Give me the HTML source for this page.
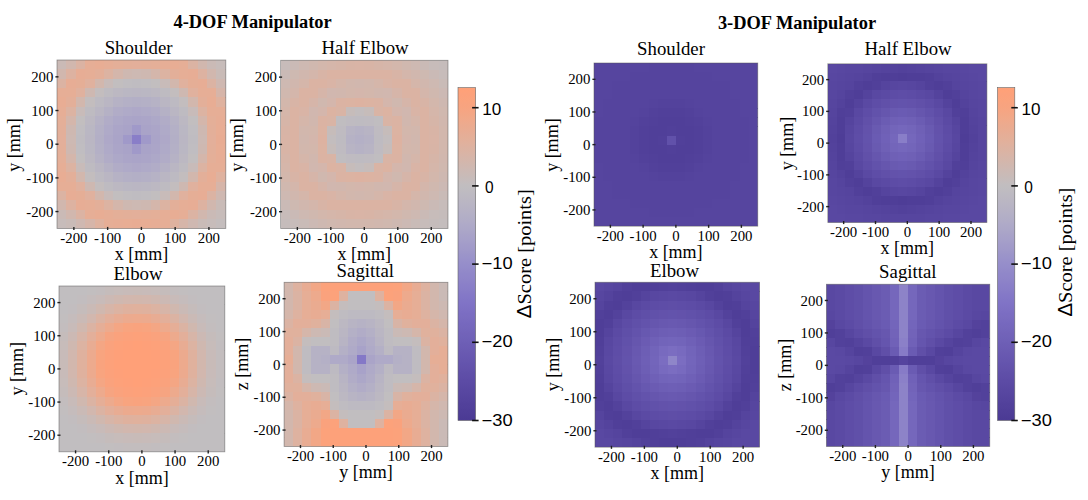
<!DOCTYPE html><html><head><meta charset="utf-8"><style>html,body{margin:0;padding:0;background:#fff;width:1088px;height:500px;overflow:hidden}svg{display:block}text{font-family:"Liberation Serif",serif;fill:#000}.s{font-family:"Liberation Sans",sans-serif}</style></head><body><svg width="1088" height="500" viewBox="0 0 1088 500"><svg x="57" y="60" width="168.80" height="168.40" viewBox="0 0 18 18" preserveAspectRatio="none" shape-rendering="crispEdges"><rect x="0" y="0" width="1" height="1.02" fill="#cabab6"/><rect x="1" y="0" width="1" height="1.02" fill="#d1b7ae"/><rect x="2" y="0" width="1" height="1.02" fill="#dbb3a3"/><rect x="3" y="0" width="1" height="1.02" fill="#e6ae96"/><rect x="4" y="0" width="1" height="1.02" fill="#e8ad94"/><rect x="5" y="0" width="1" height="1.02" fill="#e6ae96"/><rect x="6" y="0" width="1" height="1.02" fill="#e4af98"/><rect x="7" y="0" width="1" height="1.02" fill="#e3af99"/><rect x="8" y="0" width="1" height="1.02" fill="#e3af9a"/><rect x="9" y="0" width="1" height="1.02" fill="#e3af99"/><rect x="10" y="0" width="1" height="1.02" fill="#e4af98"/><rect x="11" y="0" width="1" height="1.02" fill="#e6ae96"/><rect x="12" y="0" width="1" height="1.02" fill="#e8ad94"/><rect x="13" y="0" width="1" height="1.02" fill="#e6ae96"/><rect x="14" y="0" width="1" height="1.02" fill="#dbb3a3"/><rect x="15" y="0" width="1" height="1.02" fill="#d1b7ae"/><rect x="16" y="0" width="1" height="1.02" fill="#cabab6"/><rect x="17" y="0" width="1" height="1.02" fill="#c7bcba"/><rect x="0" y="1" width="1" height="1.02" fill="#d1b7ae"/><rect x="1" y="1" width="1" height="1.02" fill="#ddb2a1"/><rect x="2" y="1" width="1" height="1.02" fill="#e7ad95"/><rect x="3" y="1" width="1" height="1.02" fill="#e6ae96"/><rect x="4" y="1" width="1" height="1.02" fill="#e3af99"/><rect x="5" y="1" width="1" height="1.02" fill="#dcb3a2"/><rect x="6" y="1" width="1" height="1.02" fill="#d4b6ab"/><rect x="7" y="1" width="1" height="1.02" fill="#ceb8b1"/><rect x="8" y="1" width="1" height="1.02" fill="#cdb9b3"/><rect x="9" y="1" width="1" height="1.02" fill="#ceb8b1"/><rect x="10" y="1" width="1" height="1.02" fill="#d4b6ab"/><rect x="11" y="1" width="1" height="1.02" fill="#dcb3a2"/><rect x="12" y="1" width="1" height="1.02" fill="#e3af99"/><rect x="13" y="1" width="1" height="1.02" fill="#e6ae96"/><rect x="14" y="1" width="1" height="1.02" fill="#e7ad95"/><rect x="15" y="1" width="1" height="1.02" fill="#ddb2a1"/><rect x="16" y="1" width="1" height="1.02" fill="#d1b7ae"/><rect x="17" y="1" width="1" height="1.02" fill="#c9bbb7"/><rect x="0" y="2" width="1" height="1.02" fill="#dbb3a3"/><rect x="1" y="2" width="1" height="1.02" fill="#e7ad95"/><rect x="2" y="2" width="1" height="1.02" fill="#e5ae96"/><rect x="3" y="2" width="1" height="1.02" fill="#e0b19e"/><rect x="4" y="2" width="1" height="1.02" fill="#d2b7ad"/><rect x="5" y="2" width="1" height="1.02" fill="#c8bbb9"/><rect x="6" y="2" width="1" height="1.02" fill="#c2bebf"/><rect x="7" y="2" width="1" height="1.02" fill="#c0bdc1"/><rect x="8" y="2" width="1" height="1.02" fill="#bfbcc1"/><rect x="9" y="2" width="1" height="1.02" fill="#c0bdc1"/><rect x="10" y="2" width="1" height="1.02" fill="#c2bebf"/><rect x="11" y="2" width="1" height="1.02" fill="#c8bbb9"/><rect x="12" y="2" width="1" height="1.02" fill="#d2b7ad"/><rect x="13" y="2" width="1" height="1.02" fill="#e0b19e"/><rect x="14" y="2" width="1" height="1.02" fill="#e5ae96"/><rect x="15" y="2" width="1" height="1.02" fill="#e7ad95"/><rect x="16" y="2" width="1" height="1.02" fill="#dbb3a3"/><rect x="17" y="2" width="1" height="1.02" fill="#cfb8b1"/><rect x="0" y="3" width="2" height="1.02" fill="#e6ae96"/><rect x="2" y="3" width="1" height="1.02" fill="#e0b19e"/><rect x="3" y="3" width="1" height="1.02" fill="#ceb8b1"/><rect x="4" y="3" width="1" height="1.02" fill="#c3bdbe"/><rect x="5" y="3" width="1" height="1.02" fill="#bebbc1"/><rect x="6" y="3" width="1" height="1.02" fill="#bcb8c2"/><rect x="7" y="3" width="1" height="1.02" fill="#bab7c3"/><rect x="8" y="3" width="1" height="1.02" fill="#bab6c3"/><rect x="9" y="3" width="1" height="1.02" fill="#bab7c3"/><rect x="10" y="3" width="1" height="1.02" fill="#bcb8c2"/><rect x="11" y="3" width="1" height="1.02" fill="#bebbc1"/><rect x="12" y="3" width="1" height="1.02" fill="#c3bdbe"/><rect x="13" y="3" width="1" height="1.02" fill="#ceb8b1"/><rect x="14" y="3" width="1" height="1.02" fill="#e0b19e"/><rect x="15" y="3" width="2" height="1.02" fill="#e6ae96"/><rect x="17" y="3" width="1" height="1.02" fill="#d6b5a9"/><rect x="0" y="4" width="1" height="1.02" fill="#e8ad94"/><rect x="1" y="4" width="1" height="1.02" fill="#e3af99"/><rect x="2" y="4" width="1" height="1.02" fill="#d2b7ad"/><rect x="3" y="4" width="1" height="1.02" fill="#c3bdbe"/><rect x="4" y="4" width="1" height="1.02" fill="#bdbac2"/><rect x="5" y="4" width="1" height="1.02" fill="#bab6c3"/><rect x="6" y="4" width="1" height="1.02" fill="#b6b2c5"/><rect x="7" y="4" width="1" height="1.02" fill="#b4b0c6"/><rect x="8" y="4" width="1" height="1.02" fill="#b3afc6"/><rect x="9" y="4" width="1" height="1.02" fill="#b4b0c6"/><rect x="10" y="4" width="1" height="1.02" fill="#b6b2c5"/><rect x="11" y="4" width="1" height="1.02" fill="#bab6c3"/><rect x="12" y="4" width="1" height="1.02" fill="#bdbac2"/><rect x="13" y="4" width="1" height="1.02" fill="#c3bdbe"/><rect x="14" y="4" width="1" height="1.02" fill="#d2b7ad"/><rect x="15" y="4" width="1" height="1.02" fill="#e3af99"/><rect x="16" y="4" width="1" height="1.02" fill="#e8ad94"/><rect x="17" y="4" width="1" height="1.02" fill="#dfb29f"/><rect x="0" y="5" width="1" height="1.02" fill="#e6ae96"/><rect x="1" y="5" width="1" height="1.02" fill="#dcb3a2"/><rect x="2" y="5" width="1" height="1.02" fill="#c8bbb9"/><rect x="3" y="5" width="1" height="1.02" fill="#bebbc1"/><rect x="4" y="5" width="1" height="1.02" fill="#bab6c3"/><rect x="5" y="5" width="1" height="1.02" fill="#b5b1c5"/><rect x="6" y="5" width="1" height="1.02" fill="#b1acc7"/><rect x="7" y="5" width="1" height="1.02" fill="#afaac8"/><rect x="8" y="5" width="1" height="1.02" fill="#aea8c8"/><rect x="9" y="5" width="1" height="1.02" fill="#afaac8"/><rect x="10" y="5" width="1" height="1.02" fill="#b1acc7"/><rect x="11" y="5" width="1" height="1.02" fill="#b5b1c5"/><rect x="12" y="5" width="1" height="1.02" fill="#bab6c3"/><rect x="13" y="5" width="1" height="1.02" fill="#bebbc1"/><rect x="14" y="5" width="1" height="1.02" fill="#c8bbb9"/><rect x="15" y="5" width="1" height="1.02" fill="#dcb3a2"/><rect x="16" y="5" width="2" height="1.02" fill="#e6ae96"/><rect x="0" y="6" width="1" height="1.02" fill="#e4af98"/><rect x="1" y="6" width="1" height="1.02" fill="#d4b6ab"/><rect x="2" y="6" width="1" height="1.02" fill="#c2bebf"/><rect x="3" y="6" width="1" height="1.02" fill="#bcb8c2"/><rect x="4" y="6" width="1" height="1.02" fill="#b6b2c5"/><rect x="5" y="6" width="1" height="1.02" fill="#b1acc7"/><rect x="6" y="6" width="1" height="1.02" fill="#ada8c8"/><rect x="7" y="6" width="1" height="1.02" fill="#aba5c8"/><rect x="8" y="6" width="1" height="1.02" fill="#aaa4c8"/><rect x="9" y="6" width="1" height="1.02" fill="#aba5c8"/><rect x="10" y="6" width="1" height="1.02" fill="#ada8c8"/><rect x="11" y="6" width="1" height="1.02" fill="#b1acc7"/><rect x="12" y="6" width="1" height="1.02" fill="#b6b2c5"/><rect x="13" y="6" width="1" height="1.02" fill="#bcb8c2"/><rect x="14" y="6" width="1" height="1.02" fill="#c2bebf"/><rect x="15" y="6" width="1" height="1.02" fill="#d4b6ab"/><rect x="16" y="6" width="1" height="1.02" fill="#e4af98"/><rect x="17" y="6" width="1" height="1.02" fill="#e7ad95"/><rect x="0" y="7" width="1" height="1.02" fill="#e3af99"/><rect x="1" y="7" width="1" height="1.02" fill="#ceb8b1"/><rect x="2" y="7" width="1" height="1.02" fill="#c0bdc1"/><rect x="3" y="7" width="1" height="1.02" fill="#bab7c3"/><rect x="4" y="7" width="1" height="1.02" fill="#b4b0c6"/><rect x="5" y="7" width="1" height="1.02" fill="#afaac8"/><rect x="6" y="7" width="1" height="1.02" fill="#aba5c8"/><rect x="7" y="7" width="1" height="1.02" fill="#a9a3c8"/><rect x="8" y="7" width="1" height="1.02" fill="#a099c9"/><rect x="9" y="7" width="1" height="1.02" fill="#a9a3c8"/><rect x="10" y="7" width="1" height="1.02" fill="#aba5c8"/><rect x="11" y="7" width="1" height="1.02" fill="#afaac8"/><rect x="12" y="7" width="1" height="1.02" fill="#b4b0c6"/><rect x="13" y="7" width="1" height="1.02" fill="#bab7c3"/><rect x="14" y="7" width="1" height="1.02" fill="#c0bdc1"/><rect x="15" y="7" width="1" height="1.02" fill="#ceb8b1"/><rect x="16" y="7" width="1" height="1.02" fill="#e3af99"/><rect x="17" y="7" width="1" height="1.02" fill="#e8ad94"/><rect x="0" y="8" width="1" height="1.02" fill="#e3af9a"/><rect x="1" y="8" width="1" height="1.02" fill="#cdb9b3"/><rect x="2" y="8" width="1" height="1.02" fill="#bfbcc1"/><rect x="3" y="8" width="1" height="1.02" fill="#bab6c3"/><rect x="4" y="8" width="1" height="1.02" fill="#b3afc6"/><rect x="5" y="8" width="1" height="1.02" fill="#aea8c8"/><rect x="6" y="8" width="1" height="1.02" fill="#aaa4c8"/><rect x="7" y="8" width="1" height="1.02" fill="#a099c9"/><rect x="8" y="8" width="1" height="1.02" fill="#897ec8"/><rect x="9" y="8" width="1" height="1.02" fill="#a099c9"/><rect x="10" y="8" width="1" height="1.02" fill="#aaa4c8"/><rect x="11" y="8" width="1" height="1.02" fill="#aea8c8"/><rect x="12" y="8" width="1" height="1.02" fill="#b3afc6"/><rect x="13" y="8" width="1" height="1.02" fill="#bab6c3"/><rect x="14" y="8" width="1" height="1.02" fill="#bfbcc1"/><rect x="15" y="8" width="1" height="1.02" fill="#cdb9b3"/><rect x="16" y="8" width="1" height="1.02" fill="#e3af9a"/><rect x="17" y="8" width="1" height="1.02" fill="#e8ac93"/><rect x="0" y="9" width="1" height="1.02" fill="#e3af99"/><rect x="1" y="9" width="1" height="1.02" fill="#ceb8b1"/><rect x="2" y="9" width="1" height="1.02" fill="#c0bdc1"/><rect x="3" y="9" width="1" height="1.02" fill="#bab7c3"/><rect x="4" y="9" width="1" height="1.02" fill="#b4b0c6"/><rect x="5" y="9" width="1" height="1.02" fill="#afaac8"/><rect x="6" y="9" width="1" height="1.02" fill="#aba5c8"/><rect x="7" y="9" width="1" height="1.02" fill="#a9a3c8"/><rect x="8" y="9" width="1" height="1.02" fill="#a099c9"/><rect x="9" y="9" width="1" height="1.02" fill="#a9a3c8"/><rect x="10" y="9" width="1" height="1.02" fill="#aba5c8"/><rect x="11" y="9" width="1" height="1.02" fill="#afaac8"/><rect x="12" y="9" width="1" height="1.02" fill="#b4b0c6"/><rect x="13" y="9" width="1" height="1.02" fill="#bab7c3"/><rect x="14" y="9" width="1" height="1.02" fill="#c0bdc1"/><rect x="15" y="9" width="1" height="1.02" fill="#ceb8b1"/><rect x="16" y="9" width="1" height="1.02" fill="#e3af99"/><rect x="17" y="9" width="1" height="1.02" fill="#e8ad94"/><rect x="0" y="10" width="1" height="1.02" fill="#e4af98"/><rect x="1" y="10" width="1" height="1.02" fill="#d4b6ab"/><rect x="2" y="10" width="1" height="1.02" fill="#c2bebf"/><rect x="3" y="10" width="1" height="1.02" fill="#bcb8c2"/><rect x="4" y="10" width="1" height="1.02" fill="#b6b2c5"/><rect x="5" y="10" width="1" height="1.02" fill="#b1acc7"/><rect x="6" y="10" width="1" height="1.02" fill="#ada8c8"/><rect x="7" y="10" width="1" height="1.02" fill="#aba5c8"/><rect x="8" y="10" width="1" height="1.02" fill="#aaa4c8"/><rect x="9" y="10" width="1" height="1.02" fill="#aba5c8"/><rect x="10" y="10" width="1" height="1.02" fill="#ada8c8"/><rect x="11" y="10" width="1" height="1.02" fill="#b1acc7"/><rect x="12" y="10" width="1" height="1.02" fill="#b6b2c5"/><rect x="13" y="10" width="1" height="1.02" fill="#bcb8c2"/><rect x="14" y="10" width="1" height="1.02" fill="#c2bebf"/><rect x="15" y="10" width="1" height="1.02" fill="#d4b6ab"/><rect x="16" y="10" width="1" height="1.02" fill="#e4af98"/><rect x="17" y="10" width="1" height="1.02" fill="#e7ad95"/><rect x="0" y="11" width="1" height="1.02" fill="#e6ae96"/><rect x="1" y="11" width="1" height="1.02" fill="#dcb3a2"/><rect x="2" y="11" width="1" height="1.02" fill="#c8bbb9"/><rect x="3" y="11" width="1" height="1.02" fill="#bebbc1"/><rect x="4" y="11" width="1" height="1.02" fill="#bab6c3"/><rect x="5" y="11" width="1" height="1.02" fill="#b5b1c5"/><rect x="6" y="11" width="1" height="1.02" fill="#b1acc7"/><rect x="7" y="11" width="1" height="1.02" fill="#afaac8"/><rect x="8" y="11" width="1" height="1.02" fill="#aea8c8"/><rect x="9" y="11" width="1" height="1.02" fill="#afaac8"/><rect x="10" y="11" width="1" height="1.02" fill="#b1acc7"/><rect x="11" y="11" width="1" height="1.02" fill="#b5b1c5"/><rect x="12" y="11" width="1" height="1.02" fill="#bab6c3"/><rect x="13" y="11" width="1" height="1.02" fill="#bebbc1"/><rect x="14" y="11" width="1" height="1.02" fill="#c8bbb9"/><rect x="15" y="11" width="1" height="1.02" fill="#dcb3a2"/><rect x="16" y="11" width="2" height="1.02" fill="#e6ae96"/><rect x="0" y="12" width="1" height="1.02" fill="#e8ad94"/><rect x="1" y="12" width="1" height="1.02" fill="#e3af99"/><rect x="2" y="12" width="1" height="1.02" fill="#d2b7ad"/><rect x="3" y="12" width="1" height="1.02" fill="#c3bdbe"/><rect x="4" y="12" width="1" height="1.02" fill="#bdbac2"/><rect x="5" y="12" width="1" height="1.02" fill="#bab6c3"/><rect x="6" y="12" width="1" height="1.02" fill="#b6b2c5"/><rect x="7" y="12" width="1" height="1.02" fill="#b4b0c6"/><rect x="8" y="12" width="1" height="1.02" fill="#b3afc6"/><rect x="9" y="12" width="1" height="1.02" fill="#b4b0c6"/><rect x="10" y="12" width="1" height="1.02" fill="#b6b2c5"/><rect x="11" y="12" width="1" height="1.02" fill="#bab6c3"/><rect x="12" y="12" width="1" height="1.02" fill="#bdbac2"/><rect x="13" y="12" width="1" height="1.02" fill="#c3bdbe"/><rect x="14" y="12" width="1" height="1.02" fill="#d2b7ad"/><rect x="15" y="12" width="1" height="1.02" fill="#e3af99"/><rect x="16" y="12" width="1" height="1.02" fill="#e8ad94"/><rect x="17" y="12" width="1" height="1.02" fill="#dfb29f"/><rect x="0" y="13" width="2" height="1.02" fill="#e6ae96"/><rect x="2" y="13" width="1" height="1.02" fill="#e0b19e"/><rect x="3" y="13" width="1" height="1.02" fill="#ceb8b1"/><rect x="4" y="13" width="1" height="1.02" fill="#c3bdbe"/><rect x="5" y="13" width="1" height="1.02" fill="#bebbc1"/><rect x="6" y="13" width="1" height="1.02" fill="#bcb8c2"/><rect x="7" y="13" width="1" height="1.02" fill="#bab7c3"/><rect x="8" y="13" width="1" height="1.02" fill="#bab6c3"/><rect x="9" y="13" width="1" height="1.02" fill="#bab7c3"/><rect x="10" y="13" width="1" height="1.02" fill="#bcb8c2"/><rect x="11" y="13" width="1" height="1.02" fill="#bebbc1"/><rect x="12" y="13" width="1" height="1.02" fill="#c3bdbe"/><rect x="13" y="13" width="1" height="1.02" fill="#ceb8b1"/><rect x="14" y="13" width="1" height="1.02" fill="#e0b19e"/><rect x="15" y="13" width="2" height="1.02" fill="#e6ae96"/><rect x="17" y="13" width="1" height="1.02" fill="#d6b5a9"/><rect x="0" y="14" width="1" height="1.02" fill="#dbb3a3"/><rect x="1" y="14" width="1" height="1.02" fill="#e7ad95"/><rect x="2" y="14" width="1" height="1.02" fill="#e5ae96"/><rect x="3" y="14" width="1" height="1.02" fill="#e0b19e"/><rect x="4" y="14" width="1" height="1.02" fill="#d2b7ad"/><rect x="5" y="14" width="1" height="1.02" fill="#c8bbb9"/><rect x="6" y="14" width="1" height="1.02" fill="#c2bebf"/><rect x="7" y="14" width="1" height="1.02" fill="#c0bdc1"/><rect x="8" y="14" width="1" height="1.02" fill="#bfbcc1"/><rect x="9" y="14" width="1" height="1.02" fill="#c0bdc1"/><rect x="10" y="14" width="1" height="1.02" fill="#c2bebf"/><rect x="11" y="14" width="1" height="1.02" fill="#c8bbb9"/><rect x="12" y="14" width="1" height="1.02" fill="#d2b7ad"/><rect x="13" y="14" width="1" height="1.02" fill="#e0b19e"/><rect x="14" y="14" width="1" height="1.02" fill="#e5ae96"/><rect x="15" y="14" width="1" height="1.02" fill="#e7ad95"/><rect x="16" y="14" width="1" height="1.02" fill="#dbb3a3"/><rect x="17" y="14" width="1" height="1.02" fill="#cfb8b1"/><rect x="0" y="15" width="1" height="1.02" fill="#d1b7ae"/><rect x="1" y="15" width="1" height="1.02" fill="#ddb2a1"/><rect x="2" y="15" width="1" height="1.02" fill="#e7ad95"/><rect x="3" y="15" width="1" height="1.02" fill="#e6ae96"/><rect x="4" y="15" width="1" height="1.02" fill="#e3af99"/><rect x="5" y="15" width="1" height="1.02" fill="#dcb3a2"/><rect x="6" y="15" width="1" height="1.02" fill="#d4b6ab"/><rect x="7" y="15" width="1" height="1.02" fill="#ceb8b1"/><rect x="8" y="15" width="1" height="1.02" fill="#cdb9b3"/><rect x="9" y="15" width="1" height="1.02" fill="#ceb8b1"/><rect x="10" y="15" width="1" height="1.02" fill="#d4b6ab"/><rect x="11" y="15" width="1" height="1.02" fill="#dcb3a2"/><rect x="12" y="15" width="1" height="1.02" fill="#e3af99"/><rect x="13" y="15" width="1" height="1.02" fill="#e6ae96"/><rect x="14" y="15" width="1" height="1.02" fill="#e7ad95"/><rect x="15" y="15" width="1" height="1.02" fill="#ddb2a1"/><rect x="16" y="15" width="1" height="1.02" fill="#d1b7ae"/><rect x="17" y="15" width="1" height="1.02" fill="#c9bbb7"/><rect x="0" y="16" width="1" height="1.02" fill="#cabab6"/><rect x="1" y="16" width="1" height="1.02" fill="#d1b7ae"/><rect x="2" y="16" width="1" height="1.02" fill="#dbb3a3"/><rect x="3" y="16" width="1" height="1.02" fill="#e6ae96"/><rect x="4" y="16" width="1" height="1.02" fill="#e8ad94"/><rect x="5" y="16" width="1" height="1.02" fill="#e6ae96"/><rect x="6" y="16" width="1" height="1.02" fill="#e4af98"/><rect x="7" y="16" width="1" height="1.02" fill="#e3af99"/><rect x="8" y="16" width="1" height="1.02" fill="#e3af9a"/><rect x="9" y="16" width="1" height="1.02" fill="#e3af99"/><rect x="10" y="16" width="1" height="1.02" fill="#e4af98"/><rect x="11" y="16" width="1" height="1.02" fill="#e6ae96"/><rect x="12" y="16" width="1" height="1.02" fill="#e8ad94"/><rect x="13" y="16" width="1" height="1.02" fill="#e6ae96"/><rect x="14" y="16" width="1" height="1.02" fill="#dbb3a3"/><rect x="15" y="16" width="1" height="1.02" fill="#d1b7ae"/><rect x="16" y="16" width="1" height="1.02" fill="#cabab6"/><rect x="17" y="16" width="1" height="1.02" fill="#c7bcba"/><rect x="0" y="17" width="1" height="1.02" fill="#c7bcba"/><rect x="1" y="17" width="1" height="1.02" fill="#c9bbb7"/><rect x="2" y="17" width="1" height="1.02" fill="#cfb8b1"/><rect x="3" y="17" width="1" height="1.02" fill="#d6b5a9"/><rect x="4" y="17" width="1" height="1.02" fill="#dfb29f"/><rect x="5" y="17" width="1" height="1.02" fill="#e6ae96"/><rect x="6" y="17" width="1" height="1.02" fill="#e7ad95"/><rect x="7" y="17" width="1" height="1.02" fill="#e8ad94"/><rect x="8" y="17" width="1" height="1.02" fill="#e8ac93"/><rect x="9" y="17" width="1" height="1.02" fill="#e8ad94"/><rect x="10" y="17" width="1" height="1.02" fill="#e7ad95"/><rect x="11" y="17" width="1" height="1.02" fill="#e6ae96"/><rect x="12" y="17" width="1" height="1.02" fill="#dfb29f"/><rect x="13" y="17" width="1" height="1.02" fill="#d6b5a9"/><rect x="14" y="17" width="1" height="1.02" fill="#cfb8b1"/><rect x="15" y="17" width="1" height="1.02" fill="#c9bbb7"/><rect x="16" y="17" width="1" height="1.02" fill="#c7bcba"/><rect x="17" y="17" width="1" height="1.02" fill="#c4bdbd"/></svg><rect x="57" y="60" width="168.80" height="168.40" fill="none" stroke="#555" stroke-width="0.8" opacity="0.6"/><line x1="73.88" y1="226.90" x2="73.88" y2="230.00" stroke="#222" stroke-width="1.4"/><line x1="55.40" y1="211.56" x2="58.50" y2="211.56" stroke="#222" stroke-width="1.4"/><text x="73.88" y="242.80" font-size="14.8" text-anchor="middle">-200</text><text x="53.40" y="216.66" font-size="14.8" text-anchor="end">-200</text><line x1="107.64" y1="226.90" x2="107.64" y2="230.00" stroke="#222" stroke-width="1.4"/><line x1="55.40" y1="177.88" x2="58.50" y2="177.88" stroke="#222" stroke-width="1.4"/><text x="107.64" y="242.80" font-size="14.8" text-anchor="middle">-100</text><text x="53.40" y="182.98" font-size="14.8" text-anchor="end">-100</text><line x1="141.40" y1="226.90" x2="141.40" y2="230.00" stroke="#222" stroke-width="1.4"/><line x1="55.40" y1="144.20" x2="58.50" y2="144.20" stroke="#222" stroke-width="1.4"/><text x="141.40" y="242.80" font-size="14.8" text-anchor="middle">0</text><text x="53.40" y="149.30" font-size="14.8" text-anchor="end">0</text><line x1="175.16" y1="226.90" x2="175.16" y2="230.00" stroke="#222" stroke-width="1.4"/><line x1="55.40" y1="110.52" x2="58.50" y2="110.52" stroke="#222" stroke-width="1.4"/><text x="175.16" y="242.80" font-size="14.8" text-anchor="middle">100</text><text x="53.40" y="115.62" font-size="14.8" text-anchor="end">100</text><line x1="208.92" y1="226.90" x2="208.92" y2="230.00" stroke="#222" stroke-width="1.4"/><line x1="55.40" y1="76.84" x2="58.50" y2="76.84" stroke="#222" stroke-width="1.4"/><text x="208.92" y="242.80" font-size="14.8" text-anchor="middle">200</text><text x="53.40" y="81.94" font-size="14.8" text-anchor="end">200</text><text x="141.40" y="260.20" font-size="18" text-anchor="middle">x [mm]</text><text transform="translate(19.50,145.00) rotate(-90)" font-size="18" text-anchor="middle">y [mm]</text><text x="138.60" y="53.70" font-size="18.8" text-anchor="middle">Shoulder</text><svg x="280.6" y="60.3" width="167.40" height="168.20" viewBox="0 0 18 18" preserveAspectRatio="none" shape-rendering="crispEdges"><rect x="0" y="0" width="1" height="1.02" fill="#c7bcba"/><rect x="1" y="0" width="1" height="1.02" fill="#cabab6"/><rect x="2" y="0" width="1" height="1.02" fill="#ceb9b2"/><rect x="3" y="0" width="1" height="1.02" fill="#d0b8af"/><rect x="4" y="0" width="1" height="1.02" fill="#d3b7ac"/><rect x="5" y="0" width="1" height="1.02" fill="#d5b6aa"/><rect x="6" y="0" width="1" height="1.02" fill="#d6b5a8"/><rect x="7" y="0" width="1" height="1.02" fill="#d8b4a6"/><rect x="8" y="0" width="1" height="1.02" fill="#d9b4a6"/><rect x="9" y="0" width="1" height="1.02" fill="#d8b4a6"/><rect x="10" y="0" width="1" height="1.02" fill="#d6b5a8"/><rect x="11" y="0" width="1" height="1.02" fill="#d5b6aa"/><rect x="12" y="0" width="1" height="1.02" fill="#d3b7ac"/><rect x="13" y="0" width="1" height="1.02" fill="#d0b8af"/><rect x="14" y="0" width="1" height="1.02" fill="#ceb9b2"/><rect x="15" y="0" width="1" height="1.02" fill="#cabab6"/><rect x="16" y="0" width="1" height="1.02" fill="#c7bcba"/><rect x="17" y="0" width="1" height="1.02" fill="#c5bcbb"/><rect x="0" y="1" width="1" height="1.02" fill="#cabab6"/><rect x="1" y="1" width="1" height="1.02" fill="#ceb9b1"/><rect x="2" y="1" width="1" height="1.02" fill="#d1b7ae"/><rect x="3" y="1" width="1" height="1.02" fill="#d4b6ab"/><rect x="4" y="1" width="1" height="1.02" fill="#d8b4a6"/><rect x="5" y="1" width="7" height="1.02" fill="#dbb3a3"/><rect x="12" y="1" width="1" height="1.02" fill="#d8b4a6"/><rect x="13" y="1" width="1" height="1.02" fill="#d4b6ab"/><rect x="14" y="1" width="1" height="1.02" fill="#d1b7ae"/><rect x="15" y="1" width="1" height="1.02" fill="#ceb9b1"/><rect x="16" y="1" width="1" height="1.02" fill="#cabab6"/><rect x="17" y="1" width="1" height="1.02" fill="#c7bcba"/><rect x="0" y="2" width="1" height="1.02" fill="#ceb9b2"/><rect x="1" y="2" width="1" height="1.02" fill="#d1b7ae"/><rect x="2" y="2" width="1" height="1.02" fill="#d5b6aa"/><rect x="3" y="2" width="2" height="1.02" fill="#dbb3a3"/><rect x="5" y="2" width="1" height="1.02" fill="#d9b4a6"/><rect x="6" y="2" width="1" height="1.02" fill="#d5b6aa"/><rect x="7" y="2" width="1" height="1.02" fill="#d2b7ad"/><rect x="8" y="2" width="1" height="1.02" fill="#d1b7ae"/><rect x="9" y="2" width="1" height="1.02" fill="#d2b7ad"/><rect x="10" y="2" width="1" height="1.02" fill="#d5b6aa"/><rect x="11" y="2" width="1" height="1.02" fill="#d9b4a6"/><rect x="12" y="2" width="2" height="1.02" fill="#dbb3a3"/><rect x="14" y="2" width="1" height="1.02" fill="#d5b6aa"/><rect x="15" y="2" width="1" height="1.02" fill="#d1b7ae"/><rect x="16" y="2" width="1" height="1.02" fill="#ceb9b2"/><rect x="17" y="2" width="1" height="1.02" fill="#c9bbb7"/><rect x="0" y="3" width="1" height="1.02" fill="#d0b8af"/><rect x="1" y="3" width="1" height="1.02" fill="#d4b6ab"/><rect x="2" y="3" width="2" height="1.02" fill="#dbb3a3"/><rect x="4" y="3" width="1" height="1.02" fill="#d6b5a9"/><rect x="5" y="3" width="1" height="1.02" fill="#d1b7af"/><rect x="6" y="3" width="1" height="1.02" fill="#d1b7ae"/><rect x="7" y="3" width="1" height="1.02" fill="#d3b7ac"/><rect x="8" y="3" width="1" height="1.02" fill="#d4b6ac"/><rect x="9" y="3" width="1" height="1.02" fill="#d3b7ac"/><rect x="10" y="3" width="1" height="1.02" fill="#d1b7ae"/><rect x="11" y="3" width="1" height="1.02" fill="#d1b7af"/><rect x="12" y="3" width="1" height="1.02" fill="#d6b5a9"/><rect x="13" y="3" width="2" height="1.02" fill="#dbb3a3"/><rect x="15" y="3" width="1" height="1.02" fill="#d4b6ab"/><rect x="16" y="3" width="1" height="1.02" fill="#d0b8af"/><rect x="17" y="3" width="1" height="1.02" fill="#ccb9b4"/><rect x="0" y="4" width="1" height="1.02" fill="#d3b7ac"/><rect x="1" y="4" width="1" height="1.02" fill="#d8b4a6"/><rect x="2" y="4" width="1" height="1.02" fill="#dbb3a3"/><rect x="3" y="4" width="1" height="1.02" fill="#d6b5a9"/><rect x="4" y="4" width="1" height="1.02" fill="#d0b8af"/><rect x="5" y="4" width="1" height="1.02" fill="#d4b6ac"/><rect x="6" y="4" width="1" height="1.02" fill="#dbb3a3"/><rect x="7" y="4" width="1" height="1.02" fill="#dcb3a2"/><rect x="8" y="4" width="1" height="1.02" fill="#ddb2a1"/><rect x="9" y="4" width="1" height="1.02" fill="#dcb3a2"/><rect x="10" y="4" width="1" height="1.02" fill="#dbb3a3"/><rect x="11" y="4" width="1" height="1.02" fill="#d4b6ac"/><rect x="12" y="4" width="1" height="1.02" fill="#d0b8af"/><rect x="13" y="4" width="1" height="1.02" fill="#d6b5a9"/><rect x="14" y="4" width="1" height="1.02" fill="#dbb3a3"/><rect x="15" y="4" width="1" height="1.02" fill="#d8b4a6"/><rect x="16" y="4" width="1" height="1.02" fill="#d3b7ac"/><rect x="17" y="4" width="1" height="1.02" fill="#ceb8b1"/><rect x="0" y="5" width="1" height="1.02" fill="#d5b6aa"/><rect x="1" y="5" width="1" height="1.02" fill="#dbb3a3"/><rect x="2" y="5" width="1" height="1.02" fill="#d9b4a6"/><rect x="3" y="5" width="1" height="1.02" fill="#d1b7af"/><rect x="4" y="5" width="1" height="1.02" fill="#d4b6ac"/><rect x="5" y="5" width="1" height="1.02" fill="#dcb3a2"/><rect x="6" y="5" width="1" height="1.02" fill="#d9b4a5"/><rect x="7" y="5" width="1" height="1.02" fill="#c6bcba"/><rect x="8" y="5" width="1" height="1.02" fill="#c3bdbe"/><rect x="9" y="5" width="1" height="1.02" fill="#c6bcba"/><rect x="10" y="5" width="1" height="1.02" fill="#d9b4a5"/><rect x="11" y="5" width="1" height="1.02" fill="#dcb3a2"/><rect x="12" y="5" width="1" height="1.02" fill="#d4b6ac"/><rect x="13" y="5" width="1" height="1.02" fill="#d1b7af"/><rect x="14" y="5" width="1" height="1.02" fill="#d9b4a6"/><rect x="15" y="5" width="1" height="1.02" fill="#dbb3a3"/><rect x="16" y="5" width="1" height="1.02" fill="#d5b6aa"/><rect x="17" y="5" width="1" height="1.02" fill="#d0b8af"/><rect x="0" y="6" width="1" height="1.02" fill="#d6b5a8"/><rect x="1" y="6" width="1" height="1.02" fill="#dbb3a3"/><rect x="2" y="6" width="1" height="1.02" fill="#d5b6aa"/><rect x="3" y="6" width="1" height="1.02" fill="#d1b7ae"/><rect x="4" y="6" width="1" height="1.02" fill="#dbb3a3"/><rect x="5" y="6" width="1" height="1.02" fill="#d9b4a5"/><rect x="6" y="6" width="1" height="1.02" fill="#c0bdc0"/><rect x="7" y="6" width="1" height="1.02" fill="#bfbbc1"/><rect x="8" y="6" width="1" height="1.02" fill="#bebbc1"/><rect x="9" y="6" width="1" height="1.02" fill="#bfbbc1"/><rect x="10" y="6" width="1" height="1.02" fill="#c0bdc0"/><rect x="11" y="6" width="1" height="1.02" fill="#d9b4a5"/><rect x="12" y="6" width="1" height="1.02" fill="#dbb3a3"/><rect x="13" y="6" width="1" height="1.02" fill="#d1b7ae"/><rect x="14" y="6" width="1" height="1.02" fill="#d5b6aa"/><rect x="15" y="6" width="1" height="1.02" fill="#dbb3a3"/><rect x="16" y="6" width="1" height="1.02" fill="#d6b5a8"/><rect x="17" y="6" width="1" height="1.02" fill="#d1b7ae"/><rect x="0" y="7" width="1" height="1.02" fill="#d8b4a6"/><rect x="1" y="7" width="1" height="1.02" fill="#dbb3a3"/><rect x="2" y="7" width="1" height="1.02" fill="#d2b7ad"/><rect x="3" y="7" width="1" height="1.02" fill="#d3b7ac"/><rect x="4" y="7" width="1" height="1.02" fill="#dcb3a2"/><rect x="5" y="7" width="1" height="1.02" fill="#c6bcba"/><rect x="6" y="7" width="1" height="1.02" fill="#bfbbc1"/><rect x="7" y="7" width="1" height="1.02" fill="#b8b4c4"/><rect x="8" y="7" width="1" height="1.02" fill="#b6b2c5"/><rect x="9" y="7" width="1" height="1.02" fill="#b8b4c4"/><rect x="10" y="7" width="1" height="1.02" fill="#bfbbc1"/><rect x="11" y="7" width="1" height="1.02" fill="#c6bcba"/><rect x="12" y="7" width="1" height="1.02" fill="#dcb3a2"/><rect x="13" y="7" width="1" height="1.02" fill="#d3b7ac"/><rect x="14" y="7" width="1" height="1.02" fill="#d2b7ad"/><rect x="15" y="7" width="1" height="1.02" fill="#dbb3a3"/><rect x="16" y="7" width="1" height="1.02" fill="#d8b4a6"/><rect x="17" y="7" width="1" height="1.02" fill="#d2b7ad"/><rect x="0" y="8" width="1" height="1.02" fill="#d9b4a6"/><rect x="1" y="8" width="1" height="1.02" fill="#dbb3a3"/><rect x="2" y="8" width="1" height="1.02" fill="#d1b7ae"/><rect x="3" y="8" width="1" height="1.02" fill="#d4b6ac"/><rect x="4" y="8" width="1" height="1.02" fill="#ddb2a1"/><rect x="5" y="8" width="1" height="1.02" fill="#c3bdbe"/><rect x="6" y="8" width="1" height="1.02" fill="#bebbc1"/><rect x="7" y="8" width="1" height="1.02" fill="#b6b2c5"/><rect x="8" y="8" width="1" height="1.02" fill="#b4b0c6"/><rect x="9" y="8" width="1" height="1.02" fill="#b6b2c5"/><rect x="10" y="8" width="1" height="1.02" fill="#bebbc1"/><rect x="11" y="8" width="1" height="1.02" fill="#c3bdbe"/><rect x="12" y="8" width="1" height="1.02" fill="#ddb2a1"/><rect x="13" y="8" width="1" height="1.02" fill="#d4b6ac"/><rect x="14" y="8" width="1" height="1.02" fill="#d1b7ae"/><rect x="15" y="8" width="1" height="1.02" fill="#dbb3a3"/><rect x="16" y="8" width="1" height="1.02" fill="#d9b4a6"/><rect x="17" y="8" width="1" height="1.02" fill="#d2b7ad"/><rect x="0" y="9" width="1" height="1.02" fill="#d8b4a6"/><rect x="1" y="9" width="1" height="1.02" fill="#dbb3a3"/><rect x="2" y="9" width="1" height="1.02" fill="#d2b7ad"/><rect x="3" y="9" width="1" height="1.02" fill="#d3b7ac"/><rect x="4" y="9" width="1" height="1.02" fill="#dcb3a2"/><rect x="5" y="9" width="1" height="1.02" fill="#c6bcba"/><rect x="6" y="9" width="1" height="1.02" fill="#bfbbc1"/><rect x="7" y="9" width="1" height="1.02" fill="#b8b4c4"/><rect x="8" y="9" width="1" height="1.02" fill="#b6b2c5"/><rect x="9" y="9" width="1" height="1.02" fill="#b8b4c4"/><rect x="10" y="9" width="1" height="1.02" fill="#bfbbc1"/><rect x="11" y="9" width="1" height="1.02" fill="#c6bcba"/><rect x="12" y="9" width="1" height="1.02" fill="#dcb3a2"/><rect x="13" y="9" width="1" height="1.02" fill="#d3b7ac"/><rect x="14" y="9" width="1" height="1.02" fill="#d2b7ad"/><rect x="15" y="9" width="1" height="1.02" fill="#dbb3a3"/><rect x="16" y="9" width="1" height="1.02" fill="#d8b4a6"/><rect x="17" y="9" width="1" height="1.02" fill="#d2b7ad"/><rect x="0" y="10" width="1" height="1.02" fill="#d6b5a8"/><rect x="1" y="10" width="1" height="1.02" fill="#dbb3a3"/><rect x="2" y="10" width="1" height="1.02" fill="#d5b6aa"/><rect x="3" y="10" width="1" height="1.02" fill="#d1b7ae"/><rect x="4" y="10" width="1" height="1.02" fill="#dbb3a3"/><rect x="5" y="10" width="1" height="1.02" fill="#d9b4a5"/><rect x="6" y="10" width="1" height="1.02" fill="#c0bdc0"/><rect x="7" y="10" width="1" height="1.02" fill="#bfbbc1"/><rect x="8" y="10" width="1" height="1.02" fill="#bebbc1"/><rect x="9" y="10" width="1" height="1.02" fill="#bfbbc1"/><rect x="10" y="10" width="1" height="1.02" fill="#c0bdc0"/><rect x="11" y="10" width="1" height="1.02" fill="#d9b4a5"/><rect x="12" y="10" width="1" height="1.02" fill="#dbb3a3"/><rect x="13" y="10" width="1" height="1.02" fill="#d1b7ae"/><rect x="14" y="10" width="1" height="1.02" fill="#d5b6aa"/><rect x="15" y="10" width="1" height="1.02" fill="#dbb3a3"/><rect x="16" y="10" width="1" height="1.02" fill="#d6b5a8"/><rect x="17" y="10" width="1" height="1.02" fill="#d1b7ae"/><rect x="0" y="11" width="1" height="1.02" fill="#d5b6aa"/><rect x="1" y="11" width="1" height="1.02" fill="#dbb3a3"/><rect x="2" y="11" width="1" height="1.02" fill="#d9b4a6"/><rect x="3" y="11" width="1" height="1.02" fill="#d1b7af"/><rect x="4" y="11" width="1" height="1.02" fill="#d4b6ac"/><rect x="5" y="11" width="1" height="1.02" fill="#dcb3a2"/><rect x="6" y="11" width="1" height="1.02" fill="#d9b4a5"/><rect x="7" y="11" width="1" height="1.02" fill="#c6bcba"/><rect x="8" y="11" width="1" height="1.02" fill="#c3bdbe"/><rect x="9" y="11" width="1" height="1.02" fill="#c6bcba"/><rect x="10" y="11" width="1" height="1.02" fill="#d9b4a5"/><rect x="11" y="11" width="1" height="1.02" fill="#dcb3a2"/><rect x="12" y="11" width="1" height="1.02" fill="#d4b6ac"/><rect x="13" y="11" width="1" height="1.02" fill="#d1b7af"/><rect x="14" y="11" width="1" height="1.02" fill="#d9b4a6"/><rect x="15" y="11" width="1" height="1.02" fill="#dbb3a3"/><rect x="16" y="11" width="1" height="1.02" fill="#d5b6aa"/><rect x="17" y="11" width="1" height="1.02" fill="#d0b8af"/><rect x="0" y="12" width="1" height="1.02" fill="#d3b7ac"/><rect x="1" y="12" width="1" height="1.02" fill="#d8b4a6"/><rect x="2" y="12" width="1" height="1.02" fill="#dbb3a3"/><rect x="3" y="12" width="1" height="1.02" fill="#d6b5a9"/><rect x="4" y="12" width="1" height="1.02" fill="#d0b8af"/><rect x="5" y="12" width="1" height="1.02" fill="#d4b6ac"/><rect x="6" y="12" width="1" height="1.02" fill="#dbb3a3"/><rect x="7" y="12" width="1" height="1.02" fill="#dcb3a2"/><rect x="8" y="12" width="1" height="1.02" fill="#ddb2a1"/><rect x="9" y="12" width="1" height="1.02" fill="#dcb3a2"/><rect x="10" y="12" width="1" height="1.02" fill="#dbb3a3"/><rect x="11" y="12" width="1" height="1.02" fill="#d4b6ac"/><rect x="12" y="12" width="1" height="1.02" fill="#d0b8af"/><rect x="13" y="12" width="1" height="1.02" fill="#d6b5a9"/><rect x="14" y="12" width="1" height="1.02" fill="#dbb3a3"/><rect x="15" y="12" width="1" height="1.02" fill="#d8b4a6"/><rect x="16" y="12" width="1" height="1.02" fill="#d3b7ac"/><rect x="17" y="12" width="1" height="1.02" fill="#ceb8b1"/><rect x="0" y="13" width="1" height="1.02" fill="#d0b8af"/><rect x="1" y="13" width="1" height="1.02" fill="#d4b6ab"/><rect x="2" y="13" width="2" height="1.02" fill="#dbb3a3"/><rect x="4" y="13" width="1" height="1.02" fill="#d6b5a9"/><rect x="5" y="13" width="1" height="1.02" fill="#d1b7af"/><rect x="6" y="13" width="1" height="1.02" fill="#d1b7ae"/><rect x="7" y="13" width="1" height="1.02" fill="#d3b7ac"/><rect x="8" y="13" width="1" height="1.02" fill="#d4b6ac"/><rect x="9" y="13" width="1" height="1.02" fill="#d3b7ac"/><rect x="10" y="13" width="1" height="1.02" fill="#d1b7ae"/><rect x="11" y="13" width="1" height="1.02" fill="#d1b7af"/><rect x="12" y="13" width="1" height="1.02" fill="#d6b5a9"/><rect x="13" y="13" width="2" height="1.02" fill="#dbb3a3"/><rect x="15" y="13" width="1" height="1.02" fill="#d4b6ab"/><rect x="16" y="13" width="1" height="1.02" fill="#d0b8af"/><rect x="17" y="13" width="1" height="1.02" fill="#ccb9b4"/><rect x="0" y="14" width="1" height="1.02" fill="#ceb9b2"/><rect x="1" y="14" width="1" height="1.02" fill="#d1b7ae"/><rect x="2" y="14" width="1" height="1.02" fill="#d5b6aa"/><rect x="3" y="14" width="2" height="1.02" fill="#dbb3a3"/><rect x="5" y="14" width="1" height="1.02" fill="#d9b4a6"/><rect x="6" y="14" width="1" height="1.02" fill="#d5b6aa"/><rect x="7" y="14" width="1" height="1.02" fill="#d2b7ad"/><rect x="8" y="14" width="1" height="1.02" fill="#d1b7ae"/><rect x="9" y="14" width="1" height="1.02" fill="#d2b7ad"/><rect x="10" y="14" width="1" height="1.02" fill="#d5b6aa"/><rect x="11" y="14" width="1" height="1.02" fill="#d9b4a6"/><rect x="12" y="14" width="2" height="1.02" fill="#dbb3a3"/><rect x="14" y="14" width="1" height="1.02" fill="#d5b6aa"/><rect x="15" y="14" width="1" height="1.02" fill="#d1b7ae"/><rect x="16" y="14" width="1" height="1.02" fill="#ceb9b2"/><rect x="17" y="14" width="1" height="1.02" fill="#c9bbb7"/><rect x="0" y="15" width="1" height="1.02" fill="#cabab6"/><rect x="1" y="15" width="1" height="1.02" fill="#ceb9b1"/><rect x="2" y="15" width="1" height="1.02" fill="#d1b7ae"/><rect x="3" y="15" width="1" height="1.02" fill="#d4b6ab"/><rect x="4" y="15" width="1" height="1.02" fill="#d8b4a6"/><rect x="5" y="15" width="7" height="1.02" fill="#dbb3a3"/><rect x="12" y="15" width="1" height="1.02" fill="#d8b4a6"/><rect x="13" y="15" width="1" height="1.02" fill="#d4b6ab"/><rect x="14" y="15" width="1" height="1.02" fill="#d1b7ae"/><rect x="15" y="15" width="1" height="1.02" fill="#ceb9b1"/><rect x="16" y="15" width="1" height="1.02" fill="#cabab6"/><rect x="17" y="15" width="1" height="1.02" fill="#c7bcba"/><rect x="0" y="16" width="1" height="1.02" fill="#c7bcba"/><rect x="1" y="16" width="1" height="1.02" fill="#cabab6"/><rect x="2" y="16" width="1" height="1.02" fill="#ceb9b2"/><rect x="3" y="16" width="1" height="1.02" fill="#d0b8af"/><rect x="4" y="16" width="1" height="1.02" fill="#d3b7ac"/><rect x="5" y="16" width="1" height="1.02" fill="#d5b6aa"/><rect x="6" y="16" width="1" height="1.02" fill="#d6b5a8"/><rect x="7" y="16" width="1" height="1.02" fill="#d8b4a6"/><rect x="8" y="16" width="1" height="1.02" fill="#d9b4a6"/><rect x="9" y="16" width="1" height="1.02" fill="#d8b4a6"/><rect x="10" y="16" width="1" height="1.02" fill="#d6b5a8"/><rect x="11" y="16" width="1" height="1.02" fill="#d5b6aa"/><rect x="12" y="16" width="1" height="1.02" fill="#d3b7ac"/><rect x="13" y="16" width="1" height="1.02" fill="#d0b8af"/><rect x="14" y="16" width="1" height="1.02" fill="#ceb9b2"/><rect x="15" y="16" width="1" height="1.02" fill="#cabab6"/><rect x="16" y="16" width="1" height="1.02" fill="#c7bcba"/><rect x="17" y="16" width="1" height="1.02" fill="#c5bcbb"/><rect x="0" y="17" width="1" height="1.02" fill="#c5bcbb"/><rect x="1" y="17" width="1" height="1.02" fill="#c7bcba"/><rect x="2" y="17" width="1" height="1.02" fill="#c9bbb7"/><rect x="3" y="17" width="1" height="1.02" fill="#ccb9b4"/><rect x="4" y="17" width="1" height="1.02" fill="#ceb8b1"/><rect x="5" y="17" width="1" height="1.02" fill="#d0b8af"/><rect x="6" y="17" width="1" height="1.02" fill="#d1b7ae"/><rect x="7" y="17" width="3" height="1.02" fill="#d2b7ad"/><rect x="10" y="17" width="1" height="1.02" fill="#d1b7ae"/><rect x="11" y="17" width="1" height="1.02" fill="#d0b8af"/><rect x="12" y="17" width="1" height="1.02" fill="#ceb8b1"/><rect x="13" y="17" width="1" height="1.02" fill="#ccb9b4"/><rect x="14" y="17" width="1" height="1.02" fill="#c9bbb7"/><rect x="15" y="17" width="1" height="1.02" fill="#c7bcba"/><rect x="16" y="17" width="1" height="1.02" fill="#c5bcbb"/><rect x="17" y="17" width="1" height="1.02" fill="#c4bdbd"/></svg><rect x="280.6" y="60.3" width="167.40" height="168.20" fill="none" stroke="#555" stroke-width="0.8" opacity="0.6"/><line x1="297.34" y1="227.00" x2="297.34" y2="230.10" stroke="#222" stroke-width="1.4"/><line x1="279.00" y1="211.68" x2="282.10" y2="211.68" stroke="#222" stroke-width="1.4"/><text x="297.34" y="242.90" font-size="14.8" text-anchor="middle">-200</text><text x="277.00" y="216.78" font-size="14.8" text-anchor="end">-200</text><line x1="330.82" y1="227.00" x2="330.82" y2="230.10" stroke="#222" stroke-width="1.4"/><line x1="279.00" y1="178.04" x2="282.10" y2="178.04" stroke="#222" stroke-width="1.4"/><text x="330.82" y="242.90" font-size="14.8" text-anchor="middle">-100</text><text x="277.00" y="183.14" font-size="14.8" text-anchor="end">-100</text><line x1="364.30" y1="227.00" x2="364.30" y2="230.10" stroke="#222" stroke-width="1.4"/><line x1="279.00" y1="144.40" x2="282.10" y2="144.40" stroke="#222" stroke-width="1.4"/><text x="364.30" y="242.90" font-size="14.8" text-anchor="middle">0</text><text x="277.00" y="149.50" font-size="14.8" text-anchor="end">0</text><line x1="397.78" y1="227.00" x2="397.78" y2="230.10" stroke="#222" stroke-width="1.4"/><line x1="279.00" y1="110.76" x2="282.10" y2="110.76" stroke="#222" stroke-width="1.4"/><text x="397.78" y="242.90" font-size="14.8" text-anchor="middle">100</text><text x="277.00" y="115.86" font-size="14.8" text-anchor="end">100</text><line x1="431.26" y1="227.00" x2="431.26" y2="230.10" stroke="#222" stroke-width="1.4"/><line x1="279.00" y1="77.12" x2="282.10" y2="77.12" stroke="#222" stroke-width="1.4"/><text x="431.26" y="242.90" font-size="14.8" text-anchor="middle">200</text><text x="277.00" y="82.22" font-size="14.8" text-anchor="end">200</text><text x="364.30" y="260.30" font-size="18" text-anchor="middle">x [mm]</text><text transform="translate(243.30,144.90) rotate(-90)" font-size="18" text-anchor="middle">y [mm]</text><text x="365.10" y="54.00" font-size="18.8" text-anchor="middle">Half Elbow</text><svg x="59" y="286" width="165.80" height="165.80" viewBox="0 0 18 18" preserveAspectRatio="none" shape-rendering="crispEdges"><rect x="0" y="0" width="3" height="1.02" fill="#c1bec0"/><rect x="3" y="0" width="1" height="1.02" fill="#c2bebf"/><rect x="4" y="0" width="1" height="1.02" fill="#c3bdbe"/><rect x="5" y="0" width="1" height="1.02" fill="#c5bcbb"/><rect x="6" y="0" width="1" height="1.02" fill="#c7bcba"/><rect x="7" y="0" width="1" height="1.02" fill="#c8bbb9"/><rect x="8" y="0" width="1" height="1.02" fill="#c8bbb8"/><rect x="9" y="0" width="1" height="1.02" fill="#c8bbb9"/><rect x="10" y="0" width="1" height="1.02" fill="#c7bcba"/><rect x="11" y="0" width="1" height="1.02" fill="#c5bcbb"/><rect x="12" y="0" width="1" height="1.02" fill="#c3bdbe"/><rect x="13" y="0" width="1" height="1.02" fill="#c2bebf"/><rect x="14" y="0" width="4" height="1.02" fill="#c1bec0"/><rect x="0" y="1" width="2" height="1.02" fill="#c1bec0"/><rect x="2" y="1" width="1" height="1.02" fill="#c2bdbf"/><rect x="3" y="1" width="1" height="1.02" fill="#c5bcbc"/><rect x="4" y="1" width="1" height="1.02" fill="#c8bbb9"/><rect x="5" y="1" width="1" height="1.02" fill="#ccb9b4"/><rect x="6" y="1" width="1" height="1.02" fill="#cfb8b0"/><rect x="7" y="1" width="1" height="1.02" fill="#d2b7ae"/><rect x="8" y="1" width="1" height="1.02" fill="#d2b7ad"/><rect x="9" y="1" width="1" height="1.02" fill="#d2b7ae"/><rect x="10" y="1" width="1" height="1.02" fill="#cfb8b0"/><rect x="11" y="1" width="1" height="1.02" fill="#ccb9b4"/><rect x="12" y="1" width="1" height="1.02" fill="#c8bbb9"/><rect x="13" y="1" width="1" height="1.02" fill="#c5bcbc"/><rect x="14" y="1" width="1" height="1.02" fill="#c2bdbf"/><rect x="15" y="1" width="3" height="1.02" fill="#c1bec0"/><rect x="0" y="2" width="1" height="1.02" fill="#c1bec0"/><rect x="1" y="2" width="1" height="1.02" fill="#c2bdbf"/><rect x="2" y="2" width="1" height="1.02" fill="#c5bcbb"/><rect x="3" y="2" width="1" height="1.02" fill="#cabab6"/><rect x="4" y="2" width="1" height="1.02" fill="#d0b8af"/><rect x="5" y="2" width="1" height="1.02" fill="#d7b5a8"/><rect x="6" y="2" width="1" height="1.02" fill="#dcb3a2"/><rect x="7" y="2" width="1" height="1.02" fill="#dfb19e"/><rect x="8" y="2" width="1" height="1.02" fill="#e0b19d"/><rect x="9" y="2" width="1" height="1.02" fill="#dfb19e"/><rect x="10" y="2" width="1" height="1.02" fill="#dcb3a2"/><rect x="11" y="2" width="1" height="1.02" fill="#d7b5a8"/><rect x="12" y="2" width="1" height="1.02" fill="#d0b8af"/><rect x="13" y="2" width="1" height="1.02" fill="#cabab6"/><rect x="14" y="2" width="1" height="1.02" fill="#c5bcbb"/><rect x="15" y="2" width="1" height="1.02" fill="#c2bdbf"/><rect x="16" y="2" width="2" height="1.02" fill="#c1bec0"/><rect x="0" y="3" width="1" height="1.02" fill="#c2bebf"/><rect x="1" y="3" width="1" height="1.02" fill="#c5bcbc"/><rect x="2" y="3" width="1" height="1.02" fill="#cabab6"/><rect x="3" y="3" width="1" height="1.02" fill="#d2b7ae"/><rect x="4" y="3" width="1" height="1.02" fill="#dbb3a3"/><rect x="5" y="3" width="1" height="1.02" fill="#e3af9a"/><rect x="6" y="3" width="1" height="1.02" fill="#e8ac93"/><rect x="7" y="3" width="1" height="1.02" fill="#ecaa8e"/><rect x="8" y="3" width="1" height="1.02" fill="#edaa8d"/><rect x="9" y="3" width="1" height="1.02" fill="#ecaa8e"/><rect x="10" y="3" width="1" height="1.02" fill="#e8ac93"/><rect x="11" y="3" width="1" height="1.02" fill="#e3af9a"/><rect x="12" y="3" width="1" height="1.02" fill="#dbb3a3"/><rect x="13" y="3" width="1" height="1.02" fill="#d2b7ae"/><rect x="14" y="3" width="1" height="1.02" fill="#cabab6"/><rect x="15" y="3" width="1" height="1.02" fill="#c5bcbc"/><rect x="16" y="3" width="1" height="1.02" fill="#c2bebf"/><rect x="17" y="3" width="1" height="1.02" fill="#c1bec0"/><rect x="0" y="4" width="1" height="1.02" fill="#c3bdbe"/><rect x="1" y="4" width="1" height="1.02" fill="#c8bbb9"/><rect x="2" y="4" width="1" height="1.02" fill="#d0b8af"/><rect x="3" y="4" width="1" height="1.02" fill="#dbb3a3"/><rect x="4" y="4" width="1" height="1.02" fill="#e5ae97"/><rect x="5" y="4" width="1" height="1.02" fill="#edaa8d"/><rect x="6" y="4" width="1" height="1.02" fill="#f4a684"/><rect x="7" y="4" width="1" height="1.02" fill="#f8a47f"/><rect x="8" y="4" width="1" height="1.02" fill="#f9a37e"/><rect x="9" y="4" width="1" height="1.02" fill="#f8a47f"/><rect x="10" y="4" width="1" height="1.02" fill="#f4a684"/><rect x="11" y="4" width="1" height="1.02" fill="#edaa8d"/><rect x="12" y="4" width="1" height="1.02" fill="#e5ae97"/><rect x="13" y="4" width="1" height="1.02" fill="#dbb3a3"/><rect x="14" y="4" width="1" height="1.02" fill="#d0b8af"/><rect x="15" y="4" width="1" height="1.02" fill="#c8bbb9"/><rect x="16" y="4" width="1" height="1.02" fill="#c3bdbe"/><rect x="17" y="4" width="1" height="1.02" fill="#c1bec0"/><rect x="0" y="5" width="1" height="1.02" fill="#c5bcbb"/><rect x="1" y="5" width="1" height="1.02" fill="#ccb9b4"/><rect x="2" y="5" width="1" height="1.02" fill="#d7b5a8"/><rect x="3" y="5" width="1" height="1.02" fill="#e3af9a"/><rect x="4" y="5" width="1" height="1.02" fill="#edaa8d"/><rect x="5" y="5" width="1" height="1.02" fill="#f6a481"/><rect x="6" y="5" width="1" height="1.02" fill="#faa27d"/><rect x="7" y="5" width="1" height="1.02" fill="#fca17b"/><rect x="8" y="5" width="1" height="1.02" fill="#fda17a"/><rect x="9" y="5" width="1" height="1.02" fill="#fca17b"/><rect x="10" y="5" width="1" height="1.02" fill="#faa27d"/><rect x="11" y="5" width="1" height="1.02" fill="#f6a481"/><rect x="12" y="5" width="1" height="1.02" fill="#edaa8d"/><rect x="13" y="5" width="1" height="1.02" fill="#e3af9a"/><rect x="14" y="5" width="1" height="1.02" fill="#d7b5a8"/><rect x="15" y="5" width="1" height="1.02" fill="#ccb9b4"/><rect x="16" y="5" width="1" height="1.02" fill="#c5bcbb"/><rect x="17" y="5" width="1" height="1.02" fill="#c2bebf"/><rect x="0" y="6" width="1" height="1.02" fill="#c7bcba"/><rect x="1" y="6" width="1" height="1.02" fill="#cfb8b0"/><rect x="2" y="6" width="1" height="1.02" fill="#dcb3a2"/><rect x="3" y="6" width="1" height="1.02" fill="#e8ac93"/><rect x="4" y="6" width="1" height="1.02" fill="#f4a684"/><rect x="5" y="6" width="1" height="1.02" fill="#faa27d"/><rect x="6" y="6" width="1" height="1.02" fill="#fda17a"/><rect x="7" y="6" width="1" height="1.02" fill="#fea079"/><rect x="8" y="6" width="1" height="1.02" fill="#ffa078"/><rect x="9" y="6" width="1" height="1.02" fill="#fea079"/><rect x="10" y="6" width="1" height="1.02" fill="#fda17a"/><rect x="11" y="6" width="1" height="1.02" fill="#faa27d"/><rect x="12" y="6" width="1" height="1.02" fill="#f4a684"/><rect x="13" y="6" width="1" height="1.02" fill="#e8ac93"/><rect x="14" y="6" width="1" height="1.02" fill="#dcb3a2"/><rect x="15" y="6" width="1" height="1.02" fill="#cfb8b0"/><rect x="16" y="6" width="1" height="1.02" fill="#c7bcba"/><rect x="17" y="6" width="1" height="1.02" fill="#c2bdbf"/><rect x="0" y="7" width="1" height="1.02" fill="#c8bbb9"/><rect x="1" y="7" width="1" height="1.02" fill="#d2b7ae"/><rect x="2" y="7" width="1" height="1.02" fill="#dfb19e"/><rect x="3" y="7" width="1" height="1.02" fill="#ecaa8e"/><rect x="4" y="7" width="1" height="1.02" fill="#f8a47f"/><rect x="5" y="7" width="1" height="1.02" fill="#fca17b"/><rect x="6" y="7" width="1" height="1.02" fill="#fea079"/><rect x="7" y="7" width="3" height="1.02" fill="#ffa078"/><rect x="10" y="7" width="1" height="1.02" fill="#fea079"/><rect x="11" y="7" width="1" height="1.02" fill="#fca17b"/><rect x="12" y="7" width="1" height="1.02" fill="#f8a47f"/><rect x="13" y="7" width="1" height="1.02" fill="#ecaa8e"/><rect x="14" y="7" width="1" height="1.02" fill="#dfb19e"/><rect x="15" y="7" width="1" height="1.02" fill="#d2b7ae"/><rect x="16" y="7" width="1" height="1.02" fill="#c8bbb9"/><rect x="17" y="7" width="1" height="1.02" fill="#c3bdbe"/><rect x="0" y="8" width="1" height="1.02" fill="#c8bbb8"/><rect x="1" y="8" width="1" height="1.02" fill="#d2b7ad"/><rect x="2" y="8" width="1" height="1.02" fill="#e0b19d"/><rect x="3" y="8" width="1" height="1.02" fill="#edaa8d"/><rect x="4" y="8" width="1" height="1.02" fill="#f9a37e"/><rect x="5" y="8" width="1" height="1.02" fill="#fda17a"/><rect x="6" y="8" width="5" height="1.02" fill="#ffa078"/><rect x="11" y="8" width="1" height="1.02" fill="#fda17a"/><rect x="12" y="8" width="1" height="1.02" fill="#f9a37e"/><rect x="13" y="8" width="1" height="1.02" fill="#edaa8d"/><rect x="14" y="8" width="1" height="1.02" fill="#e0b19d"/><rect x="15" y="8" width="1" height="1.02" fill="#d2b7ad"/><rect x="16" y="8" width="1" height="1.02" fill="#c8bbb8"/><rect x="17" y="8" width="1" height="1.02" fill="#c3bdbe"/><rect x="0" y="9" width="1" height="1.02" fill="#c8bbb9"/><rect x="1" y="9" width="1" height="1.02" fill="#d2b7ae"/><rect x="2" y="9" width="1" height="1.02" fill="#dfb19e"/><rect x="3" y="9" width="1" height="1.02" fill="#ecaa8e"/><rect x="4" y="9" width="1" height="1.02" fill="#f8a47f"/><rect x="5" y="9" width="1" height="1.02" fill="#fca17b"/><rect x="6" y="9" width="1" height="1.02" fill="#fea079"/><rect x="7" y="9" width="3" height="1.02" fill="#ffa078"/><rect x="10" y="9" width="1" height="1.02" fill="#fea079"/><rect x="11" y="9" width="1" height="1.02" fill="#fca17b"/><rect x="12" y="9" width="1" height="1.02" fill="#f8a47f"/><rect x="13" y="9" width="1" height="1.02" fill="#ecaa8e"/><rect x="14" y="9" width="1" height="1.02" fill="#dfb19e"/><rect x="15" y="9" width="1" height="1.02" fill="#d2b7ae"/><rect x="16" y="9" width="1" height="1.02" fill="#c8bbb9"/><rect x="17" y="9" width="1" height="1.02" fill="#c3bdbe"/><rect x="0" y="10" width="1" height="1.02" fill="#c7bcba"/><rect x="1" y="10" width="1" height="1.02" fill="#cfb8b0"/><rect x="2" y="10" width="1" height="1.02" fill="#dcb3a2"/><rect x="3" y="10" width="1" height="1.02" fill="#e8ac93"/><rect x="4" y="10" width="1" height="1.02" fill="#f4a684"/><rect x="5" y="10" width="1" height="1.02" fill="#faa27d"/><rect x="6" y="10" width="1" height="1.02" fill="#fda17a"/><rect x="7" y="10" width="1" height="1.02" fill="#fea079"/><rect x="8" y="10" width="1" height="1.02" fill="#ffa078"/><rect x="9" y="10" width="1" height="1.02" fill="#fea079"/><rect x="10" y="10" width="1" height="1.02" fill="#fda17a"/><rect x="11" y="10" width="1" height="1.02" fill="#faa27d"/><rect x="12" y="10" width="1" height="1.02" fill="#f4a684"/><rect x="13" y="10" width="1" height="1.02" fill="#e8ac93"/><rect x="14" y="10" width="1" height="1.02" fill="#dcb3a2"/><rect x="15" y="10" width="1" height="1.02" fill="#cfb8b0"/><rect x="16" y="10" width="1" height="1.02" fill="#c7bcba"/><rect x="17" y="10" width="1" height="1.02" fill="#c2bdbf"/><rect x="0" y="11" width="1" height="1.02" fill="#c5bcbb"/><rect x="1" y="11" width="1" height="1.02" fill="#ccb9b4"/><rect x="2" y="11" width="1" height="1.02" fill="#d7b5a8"/><rect x="3" y="11" width="1" height="1.02" fill="#e3af9a"/><rect x="4" y="11" width="1" height="1.02" fill="#edaa8d"/><rect x="5" y="11" width="1" height="1.02" fill="#f6a481"/><rect x="6" y="11" width="1" height="1.02" fill="#faa27d"/><rect x="7" y="11" width="1" height="1.02" fill="#fca17b"/><rect x="8" y="11" width="1" height="1.02" fill="#fda17a"/><rect x="9" y="11" width="1" height="1.02" fill="#fca17b"/><rect x="10" y="11" width="1" height="1.02" fill="#faa27d"/><rect x="11" y="11" width="1" height="1.02" fill="#f6a481"/><rect x="12" y="11" width="1" height="1.02" fill="#edaa8d"/><rect x="13" y="11" width="1" height="1.02" fill="#e3af9a"/><rect x="14" y="11" width="1" height="1.02" fill="#d7b5a8"/><rect x="15" y="11" width="1" height="1.02" fill="#ccb9b4"/><rect x="16" y="11" width="1" height="1.02" fill="#c5bcbb"/><rect x="17" y="11" width="1" height="1.02" fill="#c2bebf"/><rect x="0" y="12" width="1" height="1.02" fill="#c3bdbe"/><rect x="1" y="12" width="1" height="1.02" fill="#c8bbb9"/><rect x="2" y="12" width="1" height="1.02" fill="#d0b8af"/><rect x="3" y="12" width="1" height="1.02" fill="#dbb3a3"/><rect x="4" y="12" width="1" height="1.02" fill="#e5ae97"/><rect x="5" y="12" width="1" height="1.02" fill="#edaa8d"/><rect x="6" y="12" width="1" height="1.02" fill="#f4a684"/><rect x="7" y="12" width="1" height="1.02" fill="#f8a47f"/><rect x="8" y="12" width="1" height="1.02" fill="#f9a37e"/><rect x="9" y="12" width="1" height="1.02" fill="#f8a47f"/><rect x="10" y="12" width="1" height="1.02" fill="#f4a684"/><rect x="11" y="12" width="1" height="1.02" fill="#edaa8d"/><rect x="12" y="12" width="1" height="1.02" fill="#e5ae97"/><rect x="13" y="12" width="1" height="1.02" fill="#dbb3a3"/><rect x="14" y="12" width="1" height="1.02" fill="#d0b8af"/><rect x="15" y="12" width="1" height="1.02" fill="#c8bbb9"/><rect x="16" y="12" width="1" height="1.02" fill="#c3bdbe"/><rect x="17" y="12" width="1" height="1.02" fill="#c1bec0"/><rect x="0" y="13" width="1" height="1.02" fill="#c2bebf"/><rect x="1" y="13" width="1" height="1.02" fill="#c5bcbc"/><rect x="2" y="13" width="1" height="1.02" fill="#cabab6"/><rect x="3" y="13" width="1" height="1.02" fill="#d2b7ae"/><rect x="4" y="13" width="1" height="1.02" fill="#dbb3a3"/><rect x="5" y="13" width="1" height="1.02" fill="#e3af9a"/><rect x="6" y="13" width="1" height="1.02" fill="#e8ac93"/><rect x="7" y="13" width="1" height="1.02" fill="#ecaa8e"/><rect x="8" y="13" width="1" height="1.02" fill="#edaa8d"/><rect x="9" y="13" width="1" height="1.02" fill="#ecaa8e"/><rect x="10" y="13" width="1" height="1.02" fill="#e8ac93"/><rect x="11" y="13" width="1" height="1.02" fill="#e3af9a"/><rect x="12" y="13" width="1" height="1.02" fill="#dbb3a3"/><rect x="13" y="13" width="1" height="1.02" fill="#d2b7ae"/><rect x="14" y="13" width="1" height="1.02" fill="#cabab6"/><rect x="15" y="13" width="1" height="1.02" fill="#c5bcbc"/><rect x="16" y="13" width="1" height="1.02" fill="#c2bebf"/><rect x="17" y="13" width="1" height="1.02" fill="#c1bec0"/><rect x="0" y="14" width="1" height="1.02" fill="#c1bec0"/><rect x="1" y="14" width="1" height="1.02" fill="#c2bdbf"/><rect x="2" y="14" width="1" height="1.02" fill="#c5bcbb"/><rect x="3" y="14" width="1" height="1.02" fill="#cabab6"/><rect x="4" y="14" width="1" height="1.02" fill="#d0b8af"/><rect x="5" y="14" width="1" height="1.02" fill="#d7b5a8"/><rect x="6" y="14" width="1" height="1.02" fill="#dcb3a2"/><rect x="7" y="14" width="1" height="1.02" fill="#dfb19e"/><rect x="8" y="14" width="1" height="1.02" fill="#e0b19d"/><rect x="9" y="14" width="1" height="1.02" fill="#dfb19e"/><rect x="10" y="14" width="1" height="1.02" fill="#dcb3a2"/><rect x="11" y="14" width="1" height="1.02" fill="#d7b5a8"/><rect x="12" y="14" width="1" height="1.02" fill="#d0b8af"/><rect x="13" y="14" width="1" height="1.02" fill="#cabab6"/><rect x="14" y="14" width="1" height="1.02" fill="#c5bcbb"/><rect x="15" y="14" width="1" height="1.02" fill="#c2bdbf"/><rect x="16" y="14" width="2" height="1.02" fill="#c1bec0"/><rect x="0" y="15" width="2" height="1.02" fill="#c1bec0"/><rect x="2" y="15" width="1" height="1.02" fill="#c2bdbf"/><rect x="3" y="15" width="1" height="1.02" fill="#c5bcbc"/><rect x="4" y="15" width="1" height="1.02" fill="#c8bbb9"/><rect x="5" y="15" width="1" height="1.02" fill="#ccb9b4"/><rect x="6" y="15" width="1" height="1.02" fill="#cfb8b0"/><rect x="7" y="15" width="1" height="1.02" fill="#d2b7ae"/><rect x="8" y="15" width="1" height="1.02" fill="#d2b7ad"/><rect x="9" y="15" width="1" height="1.02" fill="#d2b7ae"/><rect x="10" y="15" width="1" height="1.02" fill="#cfb8b0"/><rect x="11" y="15" width="1" height="1.02" fill="#ccb9b4"/><rect x="12" y="15" width="1" height="1.02" fill="#c8bbb9"/><rect x="13" y="15" width="1" height="1.02" fill="#c5bcbc"/><rect x="14" y="15" width="1" height="1.02" fill="#c2bdbf"/><rect x="15" y="15" width="3" height="1.02" fill="#c1bec0"/><rect x="0" y="16" width="3" height="1.02" fill="#c1bec0"/><rect x="3" y="16" width="1" height="1.02" fill="#c2bebf"/><rect x="4" y="16" width="1" height="1.02" fill="#c3bdbe"/><rect x="5" y="16" width="1" height="1.02" fill="#c5bcbb"/><rect x="6" y="16" width="1" height="1.02" fill="#c7bcba"/><rect x="7" y="16" width="1" height="1.02" fill="#c8bbb9"/><rect x="8" y="16" width="1" height="1.02" fill="#c8bbb8"/><rect x="9" y="16" width="1" height="1.02" fill="#c8bbb9"/><rect x="10" y="16" width="1" height="1.02" fill="#c7bcba"/><rect x="11" y="16" width="1" height="1.02" fill="#c5bcbb"/><rect x="12" y="16" width="1" height="1.02" fill="#c3bdbe"/><rect x="13" y="16" width="1" height="1.02" fill="#c2bebf"/><rect x="14" y="16" width="4" height="1.02" fill="#c1bec0"/><rect x="0" y="17" width="5" height="1.02" fill="#c1bec0"/><rect x="5" y="17" width="1" height="1.02" fill="#c2bebf"/><rect x="6" y="17" width="1" height="1.02" fill="#c2bdbf"/><rect x="7" y="17" width="3" height="1.02" fill="#c3bdbe"/><rect x="10" y="17" width="1" height="1.02" fill="#c2bdbf"/><rect x="11" y="17" width="1" height="1.02" fill="#c2bebf"/><rect x="12" y="17" width="6" height="1.02" fill="#c1bec0"/></svg><rect x="59" y="286" width="165.80" height="165.80" fill="none" stroke="#555" stroke-width="0.8" opacity="0.6"/><line x1="75.58" y1="450.30" x2="75.58" y2="453.40" stroke="#222" stroke-width="1.4"/><line x1="57.40" y1="435.22" x2="60.50" y2="435.22" stroke="#222" stroke-width="1.4"/><text x="75.58" y="466.20" font-size="14.8" text-anchor="middle">-200</text><text x="55.40" y="440.32" font-size="14.8" text-anchor="end">-200</text><line x1="108.74" y1="450.30" x2="108.74" y2="453.40" stroke="#222" stroke-width="1.4"/><line x1="57.40" y1="402.06" x2="60.50" y2="402.06" stroke="#222" stroke-width="1.4"/><text x="108.74" y="466.20" font-size="14.8" text-anchor="middle">-100</text><text x="55.40" y="407.16" font-size="14.8" text-anchor="end">-100</text><line x1="141.90" y1="450.30" x2="141.90" y2="453.40" stroke="#222" stroke-width="1.4"/><line x1="57.40" y1="368.90" x2="60.50" y2="368.90" stroke="#222" stroke-width="1.4"/><text x="141.90" y="466.20" font-size="14.8" text-anchor="middle">0</text><text x="55.40" y="374.00" font-size="14.8" text-anchor="end">0</text><line x1="175.06" y1="450.30" x2="175.06" y2="453.40" stroke="#222" stroke-width="1.4"/><line x1="57.40" y1="335.74" x2="60.50" y2="335.74" stroke="#222" stroke-width="1.4"/><text x="175.06" y="466.20" font-size="14.8" text-anchor="middle">100</text><text x="55.40" y="340.84" font-size="14.8" text-anchor="end">100</text><line x1="208.22" y1="450.30" x2="208.22" y2="453.40" stroke="#222" stroke-width="1.4"/><line x1="57.40" y1="302.58" x2="60.50" y2="302.58" stroke="#222" stroke-width="1.4"/><text x="208.22" y="466.20" font-size="14.8" text-anchor="middle">200</text><text x="55.40" y="307.68" font-size="14.8" text-anchor="end">200</text><text x="141.90" y="483.60" font-size="18" text-anchor="middle">x [mm]</text><text transform="translate(22.50,368.70) rotate(-90)" font-size="18" text-anchor="middle">y [mm]</text><text x="138.00" y="279.80" font-size="18.8" text-anchor="middle">Elbow</text><svg x="284.1" y="282.3" width="163.80" height="164.20" viewBox="0 0 18 18" preserveAspectRatio="none" shape-rendering="crispEdges"><rect x="0" y="0" width="1" height="1.02" fill="#d2b7ad"/><rect x="1" y="0" width="1" height="1.02" fill="#deb2a0"/><rect x="2" y="0" width="1" height="1.02" fill="#e8ac93"/><rect x="3" y="0" width="1" height="1.02" fill="#f2a786"/><rect x="4" y="0" width="1" height="1.02" fill="#fca27b"/><rect x="5" y="0" width="7" height="1.02" fill="#fda17a"/><rect x="12" y="0" width="1" height="1.02" fill="#fca27b"/><rect x="13" y="0" width="1" height="1.02" fill="#f2a786"/><rect x="14" y="0" width="1" height="1.02" fill="#e8ac93"/><rect x="15" y="0" width="1" height="1.02" fill="#deb2a0"/><rect x="16" y="0" width="1" height="1.02" fill="#d2b7ad"/><rect x="17" y="0" width="1" height="1.02" fill="#cabab6"/><rect x="0" y="1" width="1" height="1.02" fill="#d2b7ad"/><rect x="1" y="1" width="1" height="1.02" fill="#dbb3a3"/><rect x="2" y="1" width="1" height="1.02" fill="#e6ae96"/><rect x="3" y="1" width="1" height="1.02" fill="#edaa8d"/><rect x="4" y="1" width="1" height="1.02" fill="#faa27d"/><rect x="5" y="1" width="1" height="1.02" fill="#fca27b"/><rect x="6" y="1" width="1" height="1.02" fill="#deb2a0"/><rect x="7" y="1" width="3" height="1.02" fill="#c1bec0"/><rect x="10" y="1" width="1" height="1.02" fill="#deb2a0"/><rect x="11" y="1" width="1" height="1.02" fill="#fca27b"/><rect x="12" y="1" width="1" height="1.02" fill="#faa27d"/><rect x="13" y="1" width="1" height="1.02" fill="#edaa8d"/><rect x="14" y="1" width="1" height="1.02" fill="#e6ae96"/><rect x="15" y="1" width="1" height="1.02" fill="#dbb3a3"/><rect x="16" y="1" width="1" height="1.02" fill="#d2b7ad"/><rect x="17" y="1" width="1" height="1.02" fill="#cabab6"/><rect x="0" y="2" width="1" height="1.02" fill="#d2b7ad"/><rect x="1" y="2" width="1" height="1.02" fill="#dbb3a3"/><rect x="2" y="2" width="1" height="1.02" fill="#e6ae96"/><rect x="3" y="2" width="1" height="1.02" fill="#eaab90"/><rect x="4" y="2" width="1" height="1.02" fill="#f2a786"/><rect x="5" y="2" width="1" height="1.02" fill="#dbb3a3"/><rect x="6" y="2" width="1" height="1.02" fill="#c4bdbd"/><rect x="7" y="2" width="3" height="1.02" fill="#c1bec0"/><rect x="10" y="2" width="1" height="1.02" fill="#c4bdbd"/><rect x="11" y="2" width="1" height="1.02" fill="#dbb3a3"/><rect x="12" y="2" width="1" height="1.02" fill="#f2a786"/><rect x="13" y="2" width="1" height="1.02" fill="#eaab90"/><rect x="14" y="2" width="1" height="1.02" fill="#e6ae96"/><rect x="15" y="2" width="1" height="1.02" fill="#dbb3a3"/><rect x="16" y="2" width="1" height="1.02" fill="#d2b7ad"/><rect x="17" y="2" width="1" height="1.02" fill="#cdb9b3"/><rect x="0" y="3" width="1" height="1.02" fill="#d5b6aa"/><rect x="1" y="3" width="1" height="1.02" fill="#deb2a0"/><rect x="2" y="3" width="1" height="1.02" fill="#e6ae96"/><rect x="3" y="3" width="1" height="1.02" fill="#e8ac93"/><rect x="4" y="3" width="1" height="1.02" fill="#e6ae96"/><rect x="5" y="3" width="1" height="1.02" fill="#c4bdbd"/><rect x="6" y="3" width="1" height="1.02" fill="#bfbcc1"/><rect x="7" y="3" width="3" height="1.02" fill="#bdbac2"/><rect x="10" y="3" width="1" height="1.02" fill="#bfbcc1"/><rect x="11" y="3" width="1" height="1.02" fill="#c4bdbd"/><rect x="12" y="3" width="1" height="1.02" fill="#e6ae96"/><rect x="13" y="3" width="1" height="1.02" fill="#e8ac93"/><rect x="14" y="3" width="1" height="1.02" fill="#e6ae96"/><rect x="15" y="3" width="1" height="1.02" fill="#deb2a0"/><rect x="16" y="3" width="1" height="1.02" fill="#d5b6aa"/><rect x="17" y="3" width="1" height="1.02" fill="#d0b8b0"/><rect x="0" y="4" width="1" height="1.02" fill="#dbb3a3"/><rect x="1" y="4" width="2" height="1.02" fill="#e3af9a"/><rect x="3" y="4" width="1" height="1.02" fill="#e0b19d"/><rect x="4" y="4" width="1" height="1.02" fill="#d8b4a6"/><rect x="5" y="4" width="1" height="1.02" fill="#c1bec0"/><rect x="6" y="4" width="1" height="1.02" fill="#bcb8c2"/><rect x="7" y="4" width="1" height="1.02" fill="#b8b4c4"/><rect x="8" y="4" width="1" height="1.02" fill="#b6b2c5"/><rect x="9" y="4" width="1" height="1.02" fill="#b8b4c4"/><rect x="10" y="4" width="1" height="1.02" fill="#bcb8c2"/><rect x="11" y="4" width="1" height="1.02" fill="#c1bec0"/><rect x="12" y="4" width="1" height="1.02" fill="#d8b4a6"/><rect x="13" y="4" width="1" height="1.02" fill="#e0b19d"/><rect x="14" y="4" width="2" height="1.02" fill="#e3af9a"/><rect x="16" y="4" width="1" height="1.02" fill="#dbb3a3"/><rect x="17" y="4" width="1" height="1.02" fill="#d5b6aa"/><rect x="0" y="5" width="2" height="1.02" fill="#e0b19d"/><rect x="2" y="5" width="1" height="1.02" fill="#d5b6aa"/><rect x="3" y="5" width="1" height="1.02" fill="#cdb9b3"/><rect x="4" y="5" width="1" height="1.02" fill="#cabab6"/><rect x="5" y="5" width="1" height="1.02" fill="#bfbcc1"/><rect x="6" y="5" width="1" height="1.02" fill="#bab6c3"/><rect x="7" y="5" width="1" height="1.02" fill="#b4b0c6"/><rect x="8" y="5" width="1" height="1.02" fill="#b1acc7"/><rect x="9" y="5" width="1" height="1.02" fill="#b4b0c6"/><rect x="10" y="5" width="1" height="1.02" fill="#bab6c3"/><rect x="11" y="5" width="1" height="1.02" fill="#bfbcc1"/><rect x="12" y="5" width="1" height="1.02" fill="#cabab6"/><rect x="13" y="5" width="1" height="1.02" fill="#cdb9b3"/><rect x="14" y="5" width="1" height="1.02" fill="#d5b6aa"/><rect x="15" y="5" width="2" height="1.02" fill="#e0b19d"/><rect x="17" y="5" width="1" height="1.02" fill="#dbb3a3"/><rect x="0" y="6" width="1" height="1.02" fill="#e3af9a"/><rect x="1" y="6" width="1" height="1.02" fill="#dbb3a3"/><rect x="2" y="6" width="1" height="1.02" fill="#c4bdbd"/><rect x="3" y="6" width="2" height="1.02" fill="#c1bec0"/><rect x="5" y="6" width="1" height="1.02" fill="#bfbcc1"/><rect x="6" y="6" width="1" height="1.02" fill="#b8b4c4"/><rect x="7" y="6" width="1" height="1.02" fill="#b1acc7"/><rect x="8" y="6" width="1" height="1.02" fill="#aca7c8"/><rect x="9" y="6" width="1" height="1.02" fill="#b1acc7"/><rect x="10" y="6" width="1" height="1.02" fill="#b8b4c4"/><rect x="11" y="6" width="1" height="1.02" fill="#bfbcc1"/><rect x="12" y="6" width="2" height="1.02" fill="#c1bec0"/><rect x="14" y="6" width="1" height="1.02" fill="#c4bdbd"/><rect x="15" y="6" width="1" height="1.02" fill="#dbb3a3"/><rect x="16" y="6" width="1" height="1.02" fill="#e3af9a"/><rect x="17" y="6" width="1" height="1.02" fill="#e0b19d"/><rect x="0" y="7" width="1" height="1.02" fill="#e3af9a"/><rect x="1" y="7" width="1" height="1.02" fill="#d2b7ad"/><rect x="2" y="7" width="1" height="1.02" fill="#bfbcc1"/><rect x="3" y="7" width="2" height="1.02" fill="#b6b2c5"/><rect x="5" y="7" width="1" height="1.02" fill="#bdbac2"/><rect x="6" y="7" width="1" height="1.02" fill="#b4b0c6"/><rect x="7" y="7" width="1" height="1.02" fill="#afaac8"/><rect x="8" y="7" width="1" height="1.02" fill="#a8a2c9"/><rect x="9" y="7" width="1" height="1.02" fill="#afaac8"/><rect x="10" y="7" width="1" height="1.02" fill="#b4b0c6"/><rect x="11" y="7" width="1" height="1.02" fill="#bdbac2"/><rect x="12" y="7" width="2" height="1.02" fill="#b6b2c5"/><rect x="14" y="7" width="1" height="1.02" fill="#bfbcc1"/><rect x="15" y="7" width="1" height="1.02" fill="#d2b7ad"/><rect x="16" y="7" width="1" height="1.02" fill="#e3af9a"/><rect x="17" y="7" width="1" height="1.02" fill="#e6ae96"/><rect x="0" y="8" width="1" height="1.02" fill="#e6ae96"/><rect x="1" y="8" width="1" height="1.02" fill="#d2b7ad"/><rect x="2" y="8" width="1" height="1.02" fill="#bfbcc1"/><rect x="3" y="8" width="1" height="1.02" fill="#b6b2c5"/><rect x="4" y="8" width="1" height="1.02" fill="#b4b0c6"/><rect x="5" y="8" width="2" height="1.02" fill="#afaac8"/><rect x="7" y="8" width="1" height="1.02" fill="#aaa4c8"/><rect x="8" y="8" width="1" height="1.02" fill="#8478c7"/><rect x="9" y="8" width="1" height="1.02" fill="#aaa4c8"/><rect x="10" y="8" width="2" height="1.02" fill="#afaac8"/><rect x="12" y="8" width="1" height="1.02" fill="#b4b0c6"/><rect x="13" y="8" width="1" height="1.02" fill="#b6b2c5"/><rect x="14" y="8" width="1" height="1.02" fill="#bfbcc1"/><rect x="15" y="8" width="1" height="1.02" fill="#d2b7ad"/><rect x="16" y="8" width="2" height="1.02" fill="#e6ae96"/><rect x="0" y="9" width="1" height="1.02" fill="#e3af9a"/><rect x="1" y="9" width="1" height="1.02" fill="#d2b7ad"/><rect x="2" y="9" width="1" height="1.02" fill="#bfbcc1"/><rect x="3" y="9" width="2" height="1.02" fill="#b6b2c5"/><rect x="5" y="9" width="1" height="1.02" fill="#bdbac2"/><rect x="6" y="9" width="1" height="1.02" fill="#b4b0c6"/><rect x="7" y="9" width="1" height="1.02" fill="#afaac8"/><rect x="8" y="9" width="1" height="1.02" fill="#a8a2c9"/><rect x="9" y="9" width="1" height="1.02" fill="#afaac8"/><rect x="10" y="9" width="1" height="1.02" fill="#b4b0c6"/><rect x="11" y="9" width="1" height="1.02" fill="#bdbac2"/><rect x="12" y="9" width="2" height="1.02" fill="#b6b2c5"/><rect x="14" y="9" width="1" height="1.02" fill="#bfbcc1"/><rect x="15" y="9" width="1" height="1.02" fill="#d2b7ad"/><rect x="16" y="9" width="1" height="1.02" fill="#e3af9a"/><rect x="17" y="9" width="1" height="1.02" fill="#e6ae96"/><rect x="0" y="10" width="1" height="1.02" fill="#e3af9a"/><rect x="1" y="10" width="1" height="1.02" fill="#dbb3a3"/><rect x="2" y="10" width="1" height="1.02" fill="#c4bdbd"/><rect x="3" y="10" width="2" height="1.02" fill="#c1bec0"/><rect x="5" y="10" width="1" height="1.02" fill="#bfbcc1"/><rect x="6" y="10" width="1" height="1.02" fill="#b8b4c4"/><rect x="7" y="10" width="1" height="1.02" fill="#b1acc7"/><rect x="8" y="10" width="1" height="1.02" fill="#aca7c8"/><rect x="9" y="10" width="1" height="1.02" fill="#b1acc7"/><rect x="10" y="10" width="1" height="1.02" fill="#b8b4c4"/><rect x="11" y="10" width="1" height="1.02" fill="#bfbcc1"/><rect x="12" y="10" width="2" height="1.02" fill="#c1bec0"/><rect x="14" y="10" width="1" height="1.02" fill="#c4bdbd"/><rect x="15" y="10" width="1" height="1.02" fill="#dbb3a3"/><rect x="16" y="10" width="1" height="1.02" fill="#e3af9a"/><rect x="17" y="10" width="1" height="1.02" fill="#e0b19d"/><rect x="0" y="11" width="2" height="1.02" fill="#e0b19d"/><rect x="2" y="11" width="1" height="1.02" fill="#d5b6aa"/><rect x="3" y="11" width="1" height="1.02" fill="#cdb9b3"/><rect x="4" y="11" width="1" height="1.02" fill="#cabab6"/><rect x="5" y="11" width="1" height="1.02" fill="#bfbcc1"/><rect x="6" y="11" width="1" height="1.02" fill="#bab6c3"/><rect x="7" y="11" width="1" height="1.02" fill="#b4b0c6"/><rect x="8" y="11" width="1" height="1.02" fill="#b1acc7"/><rect x="9" y="11" width="1" height="1.02" fill="#b4b0c6"/><rect x="10" y="11" width="1" height="1.02" fill="#bab6c3"/><rect x="11" y="11" width="1" height="1.02" fill="#bfbcc1"/><rect x="12" y="11" width="1" height="1.02" fill="#cabab6"/><rect x="13" y="11" width="1" height="1.02" fill="#cdb9b3"/><rect x="14" y="11" width="1" height="1.02" fill="#d5b6aa"/><rect x="15" y="11" width="2" height="1.02" fill="#e0b19d"/><rect x="17" y="11" width="1" height="1.02" fill="#dbb3a3"/><rect x="0" y="12" width="1" height="1.02" fill="#dbb3a3"/><rect x="1" y="12" width="2" height="1.02" fill="#e3af9a"/><rect x="3" y="12" width="1" height="1.02" fill="#e0b19d"/><rect x="4" y="12" width="1" height="1.02" fill="#d8b4a6"/><rect x="5" y="12" width="1" height="1.02" fill="#c1bec0"/><rect x="6" y="12" width="1" height="1.02" fill="#bcb8c2"/><rect x="7" y="12" width="1" height="1.02" fill="#b8b4c4"/><rect x="8" y="12" width="1" height="1.02" fill="#b6b2c5"/><rect x="9" y="12" width="1" height="1.02" fill="#b8b4c4"/><rect x="10" y="12" width="1" height="1.02" fill="#bcb8c2"/><rect x="11" y="12" width="1" height="1.02" fill="#c1bec0"/><rect x="12" y="12" width="1" height="1.02" fill="#d8b4a6"/><rect x="13" y="12" width="1" height="1.02" fill="#e0b19d"/><rect x="14" y="12" width="2" height="1.02" fill="#e3af9a"/><rect x="16" y="12" width="1" height="1.02" fill="#dbb3a3"/><rect x="17" y="12" width="1" height="1.02" fill="#d5b6aa"/><rect x="0" y="13" width="1" height="1.02" fill="#d5b6aa"/><rect x="1" y="13" width="1" height="1.02" fill="#deb2a0"/><rect x="2" y="13" width="1" height="1.02" fill="#e6ae96"/><rect x="3" y="13" width="1" height="1.02" fill="#e8ac93"/><rect x="4" y="13" width="1" height="1.02" fill="#e6ae96"/><rect x="5" y="13" width="1" height="1.02" fill="#c4bdbd"/><rect x="6" y="13" width="1" height="1.02" fill="#bfbcc1"/><rect x="7" y="13" width="3" height="1.02" fill="#bdbac2"/><rect x="10" y="13" width="1" height="1.02" fill="#bfbcc1"/><rect x="11" y="13" width="1" height="1.02" fill="#c4bdbd"/><rect x="12" y="13" width="1" height="1.02" fill="#e6ae96"/><rect x="13" y="13" width="1" height="1.02" fill="#e8ac93"/><rect x="14" y="13" width="1" height="1.02" fill="#e6ae96"/><rect x="15" y="13" width="1" height="1.02" fill="#deb2a0"/><rect x="16" y="13" width="1" height="1.02" fill="#d5b6aa"/><rect x="17" y="13" width="1" height="1.02" fill="#d0b8b0"/><rect x="0" y="14" width="1" height="1.02" fill="#d2b7ad"/><rect x="1" y="14" width="1" height="1.02" fill="#dbb3a3"/><rect x="2" y="14" width="1" height="1.02" fill="#e6ae96"/><rect x="3" y="14" width="1" height="1.02" fill="#eaab90"/><rect x="4" y="14" width="1" height="1.02" fill="#f2a786"/><rect x="5" y="14" width="1" height="1.02" fill="#dbb3a3"/><rect x="6" y="14" width="1" height="1.02" fill="#c4bdbd"/><rect x="7" y="14" width="3" height="1.02" fill="#c1bec0"/><rect x="10" y="14" width="1" height="1.02" fill="#c4bdbd"/><rect x="11" y="14" width="1" height="1.02" fill="#dbb3a3"/><rect x="12" y="14" width="1" height="1.02" fill="#f2a786"/><rect x="13" y="14" width="1" height="1.02" fill="#eaab90"/><rect x="14" y="14" width="1" height="1.02" fill="#e6ae96"/><rect x="15" y="14" width="1" height="1.02" fill="#dbb3a3"/><rect x="16" y="14" width="1" height="1.02" fill="#d2b7ad"/><rect x="17" y="14" width="1" height="1.02" fill="#cdb9b3"/><rect x="0" y="15" width="1" height="1.02" fill="#d2b7ad"/><rect x="1" y="15" width="1" height="1.02" fill="#dbb3a3"/><rect x="2" y="15" width="1" height="1.02" fill="#e6ae96"/><rect x="3" y="15" width="1" height="1.02" fill="#edaa8d"/><rect x="4" y="15" width="1" height="1.02" fill="#faa27d"/><rect x="5" y="15" width="1" height="1.02" fill="#fca27b"/><rect x="6" y="15" width="1" height="1.02" fill="#deb2a0"/><rect x="7" y="15" width="3" height="1.02" fill="#c1bec0"/><rect x="10" y="15" width="1" height="1.02" fill="#deb2a0"/><rect x="11" y="15" width="1" height="1.02" fill="#fca27b"/><rect x="12" y="15" width="1" height="1.02" fill="#faa27d"/><rect x="13" y="15" width="1" height="1.02" fill="#edaa8d"/><rect x="14" y="15" width="1" height="1.02" fill="#e6ae96"/><rect x="15" y="15" width="1" height="1.02" fill="#dbb3a3"/><rect x="16" y="15" width="1" height="1.02" fill="#d2b7ad"/><rect x="17" y="15" width="1" height="1.02" fill="#cabab6"/><rect x="0" y="16" width="1" height="1.02" fill="#d2b7ad"/><rect x="1" y="16" width="1" height="1.02" fill="#deb2a0"/><rect x="2" y="16" width="1" height="1.02" fill="#e8ac93"/><rect x="3" y="16" width="1" height="1.02" fill="#f2a786"/><rect x="4" y="16" width="1" height="1.02" fill="#fca27b"/><rect x="5" y="16" width="7" height="1.02" fill="#fda17a"/><rect x="12" y="16" width="1" height="1.02" fill="#fca27b"/><rect x="13" y="16" width="1" height="1.02" fill="#f2a786"/><rect x="14" y="16" width="1" height="1.02" fill="#e8ac93"/><rect x="15" y="16" width="1" height="1.02" fill="#deb2a0"/><rect x="16" y="16" width="1" height="1.02" fill="#d2b7ad"/><rect x="17" y="16" width="1" height="1.02" fill="#cabab6"/><rect x="0" y="17" width="1" height="1.02" fill="#d2b7ad"/><rect x="1" y="17" width="1" height="1.02" fill="#deb2a0"/><rect x="2" y="17" width="1" height="1.02" fill="#e8ac93"/><rect x="3" y="17" width="1" height="1.02" fill="#f2a786"/><rect x="4" y="17" width="1" height="1.02" fill="#fca27b"/><rect x="5" y="17" width="7" height="1.02" fill="#fda17a"/><rect x="12" y="17" width="1" height="1.02" fill="#fca27b"/><rect x="13" y="17" width="1" height="1.02" fill="#f2a786"/><rect x="14" y="17" width="1" height="1.02" fill="#e8ac93"/><rect x="15" y="17" width="1" height="1.02" fill="#deb2a0"/><rect x="16" y="17" width="1" height="1.02" fill="#d2b7ad"/><rect x="17" y="17" width="1" height="1.02" fill="#cabab6"/></svg><rect x="284.1" y="282.3" width="163.80" height="164.20" fill="none" stroke="#555" stroke-width="0.8" opacity="0.6"/><line x1="300.48" y1="445.00" x2="300.48" y2="448.10" stroke="#222" stroke-width="1.4"/><line x1="282.50" y1="430.08" x2="285.60" y2="430.08" stroke="#222" stroke-width="1.4"/><text x="300.48" y="460.90" font-size="14.8" text-anchor="middle">-200</text><text x="280.50" y="435.18" font-size="14.8" text-anchor="end">-200</text><line x1="333.24" y1="445.00" x2="333.24" y2="448.10" stroke="#222" stroke-width="1.4"/><line x1="282.50" y1="397.24" x2="285.60" y2="397.24" stroke="#222" stroke-width="1.4"/><text x="333.24" y="460.90" font-size="14.8" text-anchor="middle">-100</text><text x="280.50" y="402.34" font-size="14.8" text-anchor="end">-100</text><line x1="366.00" y1="445.00" x2="366.00" y2="448.10" stroke="#222" stroke-width="1.4"/><line x1="282.50" y1="364.40" x2="285.60" y2="364.40" stroke="#222" stroke-width="1.4"/><text x="366.00" y="460.90" font-size="14.8" text-anchor="middle">0</text><text x="280.50" y="369.50" font-size="14.8" text-anchor="end">0</text><line x1="398.76" y1="445.00" x2="398.76" y2="448.10" stroke="#222" stroke-width="1.4"/><line x1="282.50" y1="331.56" x2="285.60" y2="331.56" stroke="#222" stroke-width="1.4"/><text x="398.76" y="460.90" font-size="14.8" text-anchor="middle">100</text><text x="280.50" y="336.66" font-size="14.8" text-anchor="end">100</text><line x1="431.52" y1="445.00" x2="431.52" y2="448.10" stroke="#222" stroke-width="1.4"/><line x1="282.50" y1="298.72" x2="285.60" y2="298.72" stroke="#222" stroke-width="1.4"/><text x="431.52" y="460.90" font-size="14.8" text-anchor="middle">200</text><text x="280.50" y="303.82" font-size="14.8" text-anchor="end">200</text><text x="366.00" y="478.30" font-size="18" text-anchor="middle">y [mm]</text><text transform="translate(248.30,364.10) rotate(-90)" font-size="18" text-anchor="middle">z [mm]</text><text x="365.30" y="276.60" font-size="18.8" text-anchor="middle">Sagittal</text><svg x="594" y="63" width="163.75" height="163.25" viewBox="0 0 18 18" preserveAspectRatio="none" shape-rendering="crispEdges"><rect x="0" y="0" width="6" height="1.02" fill="#56459f"/><rect x="6" y="0" width="5" height="1.02" fill="#55449e"/><rect x="11" y="0" width="7" height="1.02" fill="#56459f"/><rect x="0" y="1" width="4" height="1.02" fill="#56459f"/><rect x="4" y="1" width="9" height="1.02" fill="#55449e"/><rect x="13" y="1" width="5" height="1.02" fill="#56459f"/><rect x="0" y="2" width="2" height="1.02" fill="#56459f"/><rect x="2" y="2" width="13" height="1.02" fill="#55449e"/><rect x="15" y="2" width="3" height="1.02" fill="#56459f"/><rect x="0" y="3" width="2" height="1.02" fill="#56459f"/><rect x="2" y="3" width="13" height="1.02" fill="#55449e"/><rect x="15" y="3" width="3" height="1.02" fill="#56459f"/><rect x="0" y="4" width="1" height="1.02" fill="#56459f"/><rect x="1" y="4" width="5" height="1.02" fill="#55449e"/><rect x="6" y="4" width="1" height="1.02" fill="#54439d"/><rect x="7" y="4" width="3" height="1.02" fill="#53429c"/><rect x="10" y="4" width="1" height="1.02" fill="#54439d"/><rect x="11" y="4" width="5" height="1.02" fill="#55449e"/><rect x="16" y="4" width="2" height="1.02" fill="#56459f"/><rect x="0" y="5" width="1" height="1.02" fill="#56459f"/><rect x="1" y="5" width="4" height="1.02" fill="#55449e"/><rect x="5" y="5" width="1" height="1.02" fill="#54439d"/><rect x="6" y="5" width="1" height="1.02" fill="#52419b"/><rect x="7" y="5" width="3" height="1.02" fill="#51409a"/><rect x="10" y="5" width="1" height="1.02" fill="#52419b"/><rect x="11" y="5" width="1" height="1.02" fill="#54439d"/><rect x="12" y="5" width="4" height="1.02" fill="#55449e"/><rect x="16" y="5" width="2" height="1.02" fill="#56459f"/><rect x="0" y="6" width="4" height="1.02" fill="#55449e"/><rect x="4" y="6" width="1" height="1.02" fill="#54439d"/><rect x="5" y="6" width="1" height="1.02" fill="#52419b"/><rect x="6" y="6" width="1" height="1.02" fill="#51409a"/><rect x="7" y="6" width="3" height="1.02" fill="#503f99"/><rect x="10" y="6" width="1" height="1.02" fill="#51409a"/><rect x="11" y="6" width="1" height="1.02" fill="#52419b"/><rect x="12" y="6" width="1" height="1.02" fill="#54439d"/><rect x="13" y="6" width="4" height="1.02" fill="#55449e"/><rect x="17" y="6" width="1" height="1.02" fill="#56459f"/><rect x="0" y="7" width="4" height="1.02" fill="#55449e"/><rect x="4" y="7" width="1" height="1.02" fill="#53429c"/><rect x="5" y="7" width="1" height="1.02" fill="#51409a"/><rect x="6" y="7" width="2" height="1.02" fill="#503f99"/><rect x="8" y="7" width="1" height="1.02" fill="#51409a"/><rect x="9" y="7" width="2" height="1.02" fill="#503f99"/><rect x="11" y="7" width="1" height="1.02" fill="#51409a"/><rect x="12" y="7" width="1" height="1.02" fill="#53429c"/><rect x="13" y="7" width="4" height="1.02" fill="#55449e"/><rect x="17" y="7" width="1" height="1.02" fill="#56459f"/><rect x="0" y="8" width="4" height="1.02" fill="#55449e"/><rect x="4" y="8" width="1" height="1.02" fill="#53429c"/><rect x="5" y="8" width="1" height="1.02" fill="#51409a"/><rect x="6" y="8" width="1" height="1.02" fill="#503f99"/><rect x="7" y="8" width="1" height="1.02" fill="#51409a"/><rect x="8" y="8" width="1" height="1.02" fill="#6151aa"/><rect x="9" y="8" width="1" height="1.02" fill="#51409a"/><rect x="10" y="8" width="1" height="1.02" fill="#503f99"/><rect x="11" y="8" width="1" height="1.02" fill="#51409a"/><rect x="12" y="8" width="1" height="1.02" fill="#53429c"/><rect x="13" y="8" width="4" height="1.02" fill="#55449e"/><rect x="17" y="8" width="1" height="1.02" fill="#56459f"/><rect x="0" y="9" width="4" height="1.02" fill="#55449e"/><rect x="4" y="9" width="1" height="1.02" fill="#53429c"/><rect x="5" y="9" width="1" height="1.02" fill="#51409a"/><rect x="6" y="9" width="2" height="1.02" fill="#503f99"/><rect x="8" y="9" width="1" height="1.02" fill="#51409a"/><rect x="9" y="9" width="2" height="1.02" fill="#503f99"/><rect x="11" y="9" width="1" height="1.02" fill="#51409a"/><rect x="12" y="9" width="1" height="1.02" fill="#53429c"/><rect x="13" y="9" width="4" height="1.02" fill="#55449e"/><rect x="17" y="9" width="1" height="1.02" fill="#56459f"/><rect x="0" y="10" width="4" height="1.02" fill="#55449e"/><rect x="4" y="10" width="1" height="1.02" fill="#54439d"/><rect x="5" y="10" width="1" height="1.02" fill="#52419b"/><rect x="6" y="10" width="1" height="1.02" fill="#51409a"/><rect x="7" y="10" width="3" height="1.02" fill="#503f99"/><rect x="10" y="10" width="1" height="1.02" fill="#51409a"/><rect x="11" y="10" width="1" height="1.02" fill="#52419b"/><rect x="12" y="10" width="1" height="1.02" fill="#54439d"/><rect x="13" y="10" width="4" height="1.02" fill="#55449e"/><rect x="17" y="10" width="1" height="1.02" fill="#56459f"/><rect x="0" y="11" width="1" height="1.02" fill="#56459f"/><rect x="1" y="11" width="4" height="1.02" fill="#55449e"/><rect x="5" y="11" width="1" height="1.02" fill="#54439d"/><rect x="6" y="11" width="1" height="1.02" fill="#52419b"/><rect x="7" y="11" width="3" height="1.02" fill="#51409a"/><rect x="10" y="11" width="1" height="1.02" fill="#52419b"/><rect x="11" y="11" width="1" height="1.02" fill="#54439d"/><rect x="12" y="11" width="4" height="1.02" fill="#55449e"/><rect x="16" y="11" width="2" height="1.02" fill="#56459f"/><rect x="0" y="12" width="1" height="1.02" fill="#56459f"/><rect x="1" y="12" width="5" height="1.02" fill="#55449e"/><rect x="6" y="12" width="1" height="1.02" fill="#54439d"/><rect x="7" y="12" width="3" height="1.02" fill="#53429c"/><rect x="10" y="12" width="1" height="1.02" fill="#54439d"/><rect x="11" y="12" width="5" height="1.02" fill="#55449e"/><rect x="16" y="12" width="2" height="1.02" fill="#56459f"/><rect x="0" y="13" width="2" height="1.02" fill="#56459f"/><rect x="2" y="13" width="13" height="1.02" fill="#55449e"/><rect x="15" y="13" width="3" height="1.02" fill="#56459f"/><rect x="0" y="14" width="2" height="1.02" fill="#56459f"/><rect x="2" y="14" width="13" height="1.02" fill="#55449e"/><rect x="15" y="14" width="3" height="1.02" fill="#56459f"/><rect x="0" y="15" width="4" height="1.02" fill="#56459f"/><rect x="4" y="15" width="9" height="1.02" fill="#55449e"/><rect x="13" y="15" width="5" height="1.02" fill="#56459f"/><rect x="0" y="16" width="6" height="1.02" fill="#56459f"/><rect x="6" y="16" width="5" height="1.02" fill="#55449e"/><rect x="11" y="16" width="7" height="1.02" fill="#56459f"/><rect x="0" y="17" width="18" height="1.02" fill="#56459f"/></svg><rect x="594" y="63" width="163.75" height="163.25" fill="none" stroke="#555" stroke-width="0.8" opacity="0.6"/><line x1="610.38" y1="224.75" x2="610.38" y2="227.85" stroke="#222" stroke-width="1.4"/><line x1="592.40" y1="209.93" x2="595.50" y2="209.93" stroke="#222" stroke-width="1.4"/><text x="610.38" y="240.65" font-size="14.8" text-anchor="middle">-200</text><text x="590.40" y="215.03" font-size="14.8" text-anchor="end">-200</text><line x1="643.12" y1="224.75" x2="643.12" y2="227.85" stroke="#222" stroke-width="1.4"/><line x1="592.40" y1="177.28" x2="595.50" y2="177.28" stroke="#222" stroke-width="1.4"/><text x="643.12" y="240.65" font-size="14.8" text-anchor="middle">-100</text><text x="590.40" y="182.38" font-size="14.8" text-anchor="end">-100</text><line x1="675.88" y1="224.75" x2="675.88" y2="227.85" stroke="#222" stroke-width="1.4"/><line x1="592.40" y1="144.62" x2="595.50" y2="144.62" stroke="#222" stroke-width="1.4"/><text x="675.88" y="240.65" font-size="14.8" text-anchor="middle">0</text><text x="590.40" y="149.72" font-size="14.8" text-anchor="end">0</text><line x1="708.62" y1="224.75" x2="708.62" y2="227.85" stroke="#222" stroke-width="1.4"/><line x1="592.40" y1="111.97" x2="595.50" y2="111.97" stroke="#222" stroke-width="1.4"/><text x="708.62" y="240.65" font-size="14.8" text-anchor="middle">100</text><text x="590.40" y="117.07" font-size="14.8" text-anchor="end">100</text><line x1="741.38" y1="224.75" x2="741.38" y2="227.85" stroke="#222" stroke-width="1.4"/><line x1="592.40" y1="79.33" x2="595.50" y2="79.33" stroke="#222" stroke-width="1.4"/><text x="741.38" y="240.65" font-size="14.8" text-anchor="middle">200</text><text x="590.40" y="84.42" font-size="14.8" text-anchor="end">200</text><text x="675.88" y="258.05" font-size="18" text-anchor="middle">x [mm]</text><text transform="translate(558.00,145.12) rotate(-90)" font-size="18" text-anchor="middle">y [mm]</text><text x="671.00" y="55.10" font-size="18.8" text-anchor="middle">Shoulder</text><svg x="827.75" y="63.75" width="159.15" height="158.75" viewBox="0 0 18 18" preserveAspectRatio="none" shape-rendering="crispEdges"><rect x="0" y="0" width="1" height="1.02" fill="#5948a2"/><rect x="1" y="0" width="1" height="1.02" fill="#5847a1"/><rect x="2" y="0" width="2" height="1.02" fill="#5746a0"/><rect x="4" y="0" width="1" height="1.02" fill="#56459f"/><rect x="5" y="0" width="1" height="1.02" fill="#55449e"/><rect x="6" y="0" width="1" height="1.02" fill="#54439d"/><rect x="7" y="0" width="1" height="1.02" fill="#53429c"/><rect x="8" y="0" width="1" height="1.02" fill="#52419b"/><rect x="9" y="0" width="1" height="1.02" fill="#53429c"/><rect x="10" y="0" width="1" height="1.02" fill="#54439d"/><rect x="11" y="0" width="1" height="1.02" fill="#55449e"/><rect x="12" y="0" width="1" height="1.02" fill="#56459f"/><rect x="13" y="0" width="2" height="1.02" fill="#5746a0"/><rect x="15" y="0" width="1" height="1.02" fill="#5847a1"/><rect x="16" y="0" width="2" height="1.02" fill="#5948a2"/><rect x="0" y="1" width="1" height="1.02" fill="#5847a1"/><rect x="1" y="1" width="1" height="1.02" fill="#5746a0"/><rect x="2" y="1" width="1" height="1.02" fill="#56459f"/><rect x="3" y="1" width="1" height="1.02" fill="#55449e"/><rect x="4" y="1" width="1" height="1.02" fill="#53429c"/><rect x="5" y="1" width="1" height="1.02" fill="#503f99"/><rect x="6" y="1" width="2" height="1.02" fill="#4f3e98"/><rect x="8" y="1" width="1" height="1.02" fill="#4e3d97"/><rect x="9" y="1" width="2" height="1.02" fill="#4f3e98"/><rect x="11" y="1" width="1" height="1.02" fill="#503f99"/><rect x="12" y="1" width="1" height="1.02" fill="#53429c"/><rect x="13" y="1" width="1" height="1.02" fill="#55449e"/><rect x="14" y="1" width="1" height="1.02" fill="#56459f"/><rect x="15" y="1" width="1" height="1.02" fill="#5746a0"/><rect x="16" y="1" width="1" height="1.02" fill="#5847a1"/><rect x="17" y="1" width="1" height="1.02" fill="#5948a2"/><rect x="0" y="2" width="1" height="1.02" fill="#5746a0"/><rect x="1" y="2" width="1" height="1.02" fill="#56459f"/><rect x="2" y="2" width="1" height="1.02" fill="#55449e"/><rect x="3" y="2" width="1" height="1.02" fill="#51409a"/><rect x="4" y="2" width="1" height="1.02" fill="#4f3e98"/><rect x="5" y="2" width="1" height="1.02" fill="#51409a"/><rect x="6" y="2" width="1" height="1.02" fill="#55449e"/><rect x="7" y="2" width="1" height="1.02" fill="#5746a0"/><rect x="8" y="2" width="1" height="1.02" fill="#5847a1"/><rect x="9" y="2" width="1" height="1.02" fill="#5746a0"/><rect x="10" y="2" width="1" height="1.02" fill="#55449e"/><rect x="11" y="2" width="1" height="1.02" fill="#51409a"/><rect x="12" y="2" width="1" height="1.02" fill="#4f3e98"/><rect x="13" y="2" width="1" height="1.02" fill="#51409a"/><rect x="14" y="2" width="1" height="1.02" fill="#55449e"/><rect x="15" y="2" width="1" height="1.02" fill="#56459f"/><rect x="16" y="2" width="1" height="1.02" fill="#5746a0"/><rect x="17" y="2" width="1" height="1.02" fill="#5847a1"/><rect x="0" y="3" width="1" height="1.02" fill="#5746a0"/><rect x="1" y="3" width="1" height="1.02" fill="#55449e"/><rect x="2" y="3" width="1" height="1.02" fill="#51409a"/><rect x="3" y="3" width="1" height="1.02" fill="#4f3e98"/><rect x="4" y="3" width="1" height="1.02" fill="#54439d"/><rect x="5" y="3" width="1" height="1.02" fill="#5948a2"/><rect x="6" y="3" width="1" height="1.02" fill="#5b4aa4"/><rect x="7" y="3" width="1" height="1.02" fill="#5d4ca6"/><rect x="8" y="3" width="1" height="1.02" fill="#5e4da7"/><rect x="9" y="3" width="1" height="1.02" fill="#5d4ca6"/><rect x="10" y="3" width="1" height="1.02" fill="#5b4aa4"/><rect x="11" y="3" width="1" height="1.02" fill="#5948a2"/><rect x="12" y="3" width="1" height="1.02" fill="#54439d"/><rect x="13" y="3" width="1" height="1.02" fill="#4f3e98"/><rect x="14" y="3" width="1" height="1.02" fill="#51409a"/><rect x="15" y="3" width="1" height="1.02" fill="#55449e"/><rect x="16" y="3" width="1" height="1.02" fill="#5746a0"/><rect x="17" y="3" width="1" height="1.02" fill="#5847a1"/><rect x="0" y="4" width="1" height="1.02" fill="#56459f"/><rect x="1" y="4" width="1" height="1.02" fill="#53429c"/><rect x="2" y="4" width="1" height="1.02" fill="#4f3e98"/><rect x="3" y="4" width="1" height="1.02" fill="#54439d"/><rect x="4" y="4" width="1" height="1.02" fill="#5a49a3"/><rect x="5" y="4" width="1" height="1.02" fill="#5e4da7"/><rect x="6" y="4" width="1" height="1.02" fill="#6150a9"/><rect x="7" y="4" width="1" height="1.02" fill="#6352ab"/><rect x="8" y="4" width="1" height="1.02" fill="#6353ac"/><rect x="9" y="4" width="1" height="1.02" fill="#6352ab"/><rect x="10" y="4" width="1" height="1.02" fill="#6150a9"/><rect x="11" y="4" width="1" height="1.02" fill="#5e4da7"/><rect x="12" y="4" width="1" height="1.02" fill="#5a49a3"/><rect x="13" y="4" width="1" height="1.02" fill="#54439d"/><rect x="14" y="4" width="1" height="1.02" fill="#4f3e98"/><rect x="15" y="4" width="1" height="1.02" fill="#53429c"/><rect x="16" y="4" width="1" height="1.02" fill="#56459f"/><rect x="17" y="4" width="1" height="1.02" fill="#5746a0"/><rect x="0" y="5" width="1" height="1.02" fill="#55449e"/><rect x="1" y="5" width="1" height="1.02" fill="#503f99"/><rect x="2" y="5" width="1" height="1.02" fill="#51409a"/><rect x="3" y="5" width="1" height="1.02" fill="#5948a2"/><rect x="4" y="5" width="1" height="1.02" fill="#5e4da7"/><rect x="5" y="5" width="1" height="1.02" fill="#6252ab"/><rect x="6" y="5" width="1" height="1.02" fill="#6656ae"/><rect x="7" y="5" width="1" height="1.02" fill="#695ab1"/><rect x="8" y="5" width="1" height="1.02" fill="#6a5bb3"/><rect x="9" y="5" width="1" height="1.02" fill="#695ab1"/><rect x="10" y="5" width="1" height="1.02" fill="#6656ae"/><rect x="11" y="5" width="1" height="1.02" fill="#6252ab"/><rect x="12" y="5" width="1" height="1.02" fill="#5e4da7"/><rect x="13" y="5" width="1" height="1.02" fill="#5948a2"/><rect x="14" y="5" width="1" height="1.02" fill="#51409a"/><rect x="15" y="5" width="1" height="1.02" fill="#503f99"/><rect x="16" y="5" width="1" height="1.02" fill="#55449e"/><rect x="17" y="5" width="1" height="1.02" fill="#5746a0"/><rect x="0" y="6" width="1" height="1.02" fill="#54439d"/><rect x="1" y="6" width="1" height="1.02" fill="#4f3e98"/><rect x="2" y="6" width="1" height="1.02" fill="#55449e"/><rect x="3" y="6" width="1" height="1.02" fill="#5b4aa4"/><rect x="4" y="6" width="1" height="1.02" fill="#6150a9"/><rect x="5" y="6" width="1" height="1.02" fill="#6656ae"/><rect x="6" y="6" width="1" height="1.02" fill="#6b5cb3"/><rect x="7" y="6" width="1" height="1.02" fill="#6f60b6"/><rect x="8" y="6" width="1" height="1.02" fill="#7061b8"/><rect x="9" y="6" width="1" height="1.02" fill="#6f60b6"/><rect x="10" y="6" width="1" height="1.02" fill="#6b5cb3"/><rect x="11" y="6" width="1" height="1.02" fill="#6656ae"/><rect x="12" y="6" width="1" height="1.02" fill="#6150a9"/><rect x="13" y="6" width="1" height="1.02" fill="#5b4aa4"/><rect x="14" y="6" width="1" height="1.02" fill="#55449e"/><rect x="15" y="6" width="1" height="1.02" fill="#4f3e98"/><rect x="16" y="6" width="1" height="1.02" fill="#54439d"/><rect x="17" y="6" width="1" height="1.02" fill="#56459f"/><rect x="0" y="7" width="1" height="1.02" fill="#53429c"/><rect x="1" y="7" width="1" height="1.02" fill="#4f3e98"/><rect x="2" y="7" width="1" height="1.02" fill="#5746a0"/><rect x="3" y="7" width="1" height="1.02" fill="#5d4ca6"/><rect x="4" y="7" width="1" height="1.02" fill="#6352ab"/><rect x="5" y="7" width="1" height="1.02" fill="#695ab1"/><rect x="6" y="7" width="1" height="1.02" fill="#6f60b6"/><rect x="7" y="7" width="1" height="1.02" fill="#7365ba"/><rect x="8" y="7" width="1" height="1.02" fill="#7567bc"/><rect x="9" y="7" width="1" height="1.02" fill="#7365ba"/><rect x="10" y="7" width="1" height="1.02" fill="#6f60b6"/><rect x="11" y="7" width="1" height="1.02" fill="#695ab1"/><rect x="12" y="7" width="1" height="1.02" fill="#6352ab"/><rect x="13" y="7" width="1" height="1.02" fill="#5d4ca6"/><rect x="14" y="7" width="1" height="1.02" fill="#5746a0"/><rect x="15" y="7" width="1" height="1.02" fill="#4f3e98"/><rect x="16" y="7" width="1" height="1.02" fill="#53429c"/><rect x="17" y="7" width="1" height="1.02" fill="#56459f"/><rect x="0" y="8" width="1" height="1.02" fill="#52419b"/><rect x="1" y="8" width="1" height="1.02" fill="#4e3d97"/><rect x="2" y="8" width="1" height="1.02" fill="#5847a1"/><rect x="3" y="8" width="1" height="1.02" fill="#5e4da7"/><rect x="4" y="8" width="1" height="1.02" fill="#6353ac"/><rect x="5" y="8" width="1" height="1.02" fill="#6a5bb3"/><rect x="6" y="8" width="1" height="1.02" fill="#7061b8"/><rect x="7" y="8" width="1" height="1.02" fill="#7567bc"/><rect x="8" y="8" width="1" height="1.02" fill="#897ec8"/><rect x="9" y="8" width="1" height="1.02" fill="#7567bc"/><rect x="10" y="8" width="1" height="1.02" fill="#7061b8"/><rect x="11" y="8" width="1" height="1.02" fill="#6a5bb3"/><rect x="12" y="8" width="1" height="1.02" fill="#6353ac"/><rect x="13" y="8" width="1" height="1.02" fill="#5e4da7"/><rect x="14" y="8" width="1" height="1.02" fill="#5847a1"/><rect x="15" y="8" width="1" height="1.02" fill="#4e3d97"/><rect x="16" y="8" width="1" height="1.02" fill="#52419b"/><rect x="17" y="8" width="1" height="1.02" fill="#56459f"/><rect x="0" y="9" width="1" height="1.02" fill="#53429c"/><rect x="1" y="9" width="1" height="1.02" fill="#4f3e98"/><rect x="2" y="9" width="1" height="1.02" fill="#5746a0"/><rect x="3" y="9" width="1" height="1.02" fill="#5d4ca6"/><rect x="4" y="9" width="1" height="1.02" fill="#6352ab"/><rect x="5" y="9" width="1" height="1.02" fill="#695ab1"/><rect x="6" y="9" width="1" height="1.02" fill="#6f60b6"/><rect x="7" y="9" width="1" height="1.02" fill="#7365ba"/><rect x="8" y="9" width="1" height="1.02" fill="#7567bc"/><rect x="9" y="9" width="1" height="1.02" fill="#7365ba"/><rect x="10" y="9" width="1" height="1.02" fill="#6f60b6"/><rect x="11" y="9" width="1" height="1.02" fill="#695ab1"/><rect x="12" y="9" width="1" height="1.02" fill="#6352ab"/><rect x="13" y="9" width="1" height="1.02" fill="#5d4ca6"/><rect x="14" y="9" width="1" height="1.02" fill="#5746a0"/><rect x="15" y="9" width="1" height="1.02" fill="#4f3e98"/><rect x="16" y="9" width="1" height="1.02" fill="#53429c"/><rect x="17" y="9" width="1" height="1.02" fill="#56459f"/><rect x="0" y="10" width="1" height="1.02" fill="#54439d"/><rect x="1" y="10" width="1" height="1.02" fill="#4f3e98"/><rect x="2" y="10" width="1" height="1.02" fill="#55449e"/><rect x="3" y="10" width="1" height="1.02" fill="#5b4aa4"/><rect x="4" y="10" width="1" height="1.02" fill="#6150a9"/><rect x="5" y="10" width="1" height="1.02" fill="#6656ae"/><rect x="6" y="10" width="1" height="1.02" fill="#6b5cb3"/><rect x="7" y="10" width="1" height="1.02" fill="#6f60b6"/><rect x="8" y="10" width="1" height="1.02" fill="#7061b8"/><rect x="9" y="10" width="1" height="1.02" fill="#6f60b6"/><rect x="10" y="10" width="1" height="1.02" fill="#6b5cb3"/><rect x="11" y="10" width="1" height="1.02" fill="#6656ae"/><rect x="12" y="10" width="1" height="1.02" fill="#6150a9"/><rect x="13" y="10" width="1" height="1.02" fill="#5b4aa4"/><rect x="14" y="10" width="1" height="1.02" fill="#55449e"/><rect x="15" y="10" width="1" height="1.02" fill="#4f3e98"/><rect x="16" y="10" width="1" height="1.02" fill="#54439d"/><rect x="17" y="10" width="1" height="1.02" fill="#56459f"/><rect x="0" y="11" width="1" height="1.02" fill="#55449e"/><rect x="1" y="11" width="1" height="1.02" fill="#503f99"/><rect x="2" y="11" width="1" height="1.02" fill="#51409a"/><rect x="3" y="11" width="1" height="1.02" fill="#5948a2"/><rect x="4" y="11" width="1" height="1.02" fill="#5e4da7"/><rect x="5" y="11" width="1" height="1.02" fill="#6252ab"/><rect x="6" y="11" width="1" height="1.02" fill="#6656ae"/><rect x="7" y="11" width="1" height="1.02" fill="#695ab1"/><rect x="8" y="11" width="1" height="1.02" fill="#6a5bb3"/><rect x="9" y="11" width="1" height="1.02" fill="#695ab1"/><rect x="10" y="11" width="1" height="1.02" fill="#6656ae"/><rect x="11" y="11" width="1" height="1.02" fill="#6252ab"/><rect x="12" y="11" width="1" height="1.02" fill="#5e4da7"/><rect x="13" y="11" width="1" height="1.02" fill="#5948a2"/><rect x="14" y="11" width="1" height="1.02" fill="#51409a"/><rect x="15" y="11" width="1" height="1.02" fill="#503f99"/><rect x="16" y="11" width="1" height="1.02" fill="#55449e"/><rect x="17" y="11" width="1" height="1.02" fill="#5746a0"/><rect x="0" y="12" width="1" height="1.02" fill="#56459f"/><rect x="1" y="12" width="1" height="1.02" fill="#53429c"/><rect x="2" y="12" width="1" height="1.02" fill="#4f3e98"/><rect x="3" y="12" width="1" height="1.02" fill="#54439d"/><rect x="4" y="12" width="1" height="1.02" fill="#5a49a3"/><rect x="5" y="12" width="1" height="1.02" fill="#5e4da7"/><rect x="6" y="12" width="1" height="1.02" fill="#6150a9"/><rect x="7" y="12" width="1" height="1.02" fill="#6352ab"/><rect x="8" y="12" width="1" height="1.02" fill="#6353ac"/><rect x="9" y="12" width="1" height="1.02" fill="#6352ab"/><rect x="10" y="12" width="1" height="1.02" fill="#6150a9"/><rect x="11" y="12" width="1" height="1.02" fill="#5e4da7"/><rect x="12" y="12" width="1" height="1.02" fill="#5a49a3"/><rect x="13" y="12" width="1" height="1.02" fill="#54439d"/><rect x="14" y="12" width="1" height="1.02" fill="#4f3e98"/><rect x="15" y="12" width="1" height="1.02" fill="#53429c"/><rect x="16" y="12" width="1" height="1.02" fill="#56459f"/><rect x="17" y="12" width="1" height="1.02" fill="#5746a0"/><rect x="0" y="13" width="1" height="1.02" fill="#5746a0"/><rect x="1" y="13" width="1" height="1.02" fill="#55449e"/><rect x="2" y="13" width="1" height="1.02" fill="#51409a"/><rect x="3" y="13" width="1" height="1.02" fill="#4f3e98"/><rect x="4" y="13" width="1" height="1.02" fill="#54439d"/><rect x="5" y="13" width="1" height="1.02" fill="#5948a2"/><rect x="6" y="13" width="1" height="1.02" fill="#5b4aa4"/><rect x="7" y="13" width="1" height="1.02" fill="#5d4ca6"/><rect x="8" y="13" width="1" height="1.02" fill="#5e4da7"/><rect x="9" y="13" width="1" height="1.02" fill="#5d4ca6"/><rect x="10" y="13" width="1" height="1.02" fill="#5b4aa4"/><rect x="11" y="13" width="1" height="1.02" fill="#5948a2"/><rect x="12" y="13" width="1" height="1.02" fill="#54439d"/><rect x="13" y="13" width="1" height="1.02" fill="#4f3e98"/><rect x="14" y="13" width="1" height="1.02" fill="#51409a"/><rect x="15" y="13" width="1" height="1.02" fill="#55449e"/><rect x="16" y="13" width="1" height="1.02" fill="#5746a0"/><rect x="17" y="13" width="1" height="1.02" fill="#5847a1"/><rect x="0" y="14" width="1" height="1.02" fill="#5746a0"/><rect x="1" y="14" width="1" height="1.02" fill="#56459f"/><rect x="2" y="14" width="1" height="1.02" fill="#55449e"/><rect x="3" y="14" width="1" height="1.02" fill="#51409a"/><rect x="4" y="14" width="1" height="1.02" fill="#4f3e98"/><rect x="5" y="14" width="1" height="1.02" fill="#51409a"/><rect x="6" y="14" width="1" height="1.02" fill="#55449e"/><rect x="7" y="14" width="1" height="1.02" fill="#5746a0"/><rect x="8" y="14" width="1" height="1.02" fill="#5847a1"/><rect x="9" y="14" width="1" height="1.02" fill="#5746a0"/><rect x="10" y="14" width="1" height="1.02" fill="#55449e"/><rect x="11" y="14" width="1" height="1.02" fill="#51409a"/><rect x="12" y="14" width="1" height="1.02" fill="#4f3e98"/><rect x="13" y="14" width="1" height="1.02" fill="#51409a"/><rect x="14" y="14" width="1" height="1.02" fill="#55449e"/><rect x="15" y="14" width="1" height="1.02" fill="#56459f"/><rect x="16" y="14" width="1" height="1.02" fill="#5746a0"/><rect x="17" y="14" width="1" height="1.02" fill="#5847a1"/><rect x="0" y="15" width="1" height="1.02" fill="#5847a1"/><rect x="1" y="15" width="1" height="1.02" fill="#5746a0"/><rect x="2" y="15" width="1" height="1.02" fill="#56459f"/><rect x="3" y="15" width="1" height="1.02" fill="#55449e"/><rect x="4" y="15" width="1" height="1.02" fill="#53429c"/><rect x="5" y="15" width="1" height="1.02" fill="#503f99"/><rect x="6" y="15" width="2" height="1.02" fill="#4f3e98"/><rect x="8" y="15" width="1" height="1.02" fill="#4e3d97"/><rect x="9" y="15" width="2" height="1.02" fill="#4f3e98"/><rect x="11" y="15" width="1" height="1.02" fill="#503f99"/><rect x="12" y="15" width="1" height="1.02" fill="#53429c"/><rect x="13" y="15" width="1" height="1.02" fill="#55449e"/><rect x="14" y="15" width="1" height="1.02" fill="#56459f"/><rect x="15" y="15" width="1" height="1.02" fill="#5746a0"/><rect x="16" y="15" width="1" height="1.02" fill="#5847a1"/><rect x="17" y="15" width="1" height="1.02" fill="#5948a2"/><rect x="0" y="16" width="1" height="1.02" fill="#5948a2"/><rect x="1" y="16" width="1" height="1.02" fill="#5847a1"/><rect x="2" y="16" width="2" height="1.02" fill="#5746a0"/><rect x="4" y="16" width="1" height="1.02" fill="#56459f"/><rect x="5" y="16" width="1" height="1.02" fill="#55449e"/><rect x="6" y="16" width="1" height="1.02" fill="#54439d"/><rect x="7" y="16" width="1" height="1.02" fill="#53429c"/><rect x="8" y="16" width="1" height="1.02" fill="#52419b"/><rect x="9" y="16" width="1" height="1.02" fill="#53429c"/><rect x="10" y="16" width="1" height="1.02" fill="#54439d"/><rect x="11" y="16" width="1" height="1.02" fill="#55449e"/><rect x="12" y="16" width="1" height="1.02" fill="#56459f"/><rect x="13" y="16" width="2" height="1.02" fill="#5746a0"/><rect x="15" y="16" width="1" height="1.02" fill="#5847a1"/><rect x="16" y="16" width="2" height="1.02" fill="#5948a2"/><rect x="0" y="17" width="2" height="1.02" fill="#5948a2"/><rect x="2" y="17" width="2" height="1.02" fill="#5847a1"/><rect x="4" y="17" width="2" height="1.02" fill="#5746a0"/><rect x="6" y="17" width="5" height="1.02" fill="#56459f"/><rect x="11" y="17" width="2" height="1.02" fill="#5746a0"/><rect x="13" y="17" width="2" height="1.02" fill="#5847a1"/><rect x="15" y="17" width="3" height="1.02" fill="#5948a2"/></svg><rect x="827.75" y="63.75" width="159.15" height="158.75" fill="none" stroke="#555" stroke-width="0.8" opacity="0.6"/><line x1="843.66" y1="221.00" x2="843.66" y2="224.10" stroke="#222" stroke-width="1.4"/><line x1="826.15" y1="206.62" x2="829.25" y2="206.62" stroke="#222" stroke-width="1.4"/><text x="843.66" y="236.90" font-size="14.8" text-anchor="middle">-200</text><text x="824.15" y="211.72" font-size="14.8" text-anchor="end">-200</text><line x1="875.50" y1="221.00" x2="875.50" y2="224.10" stroke="#222" stroke-width="1.4"/><line x1="826.15" y1="174.88" x2="829.25" y2="174.88" stroke="#222" stroke-width="1.4"/><text x="875.50" y="236.90" font-size="14.8" text-anchor="middle">-100</text><text x="824.15" y="179.97" font-size="14.8" text-anchor="end">-100</text><line x1="907.33" y1="221.00" x2="907.33" y2="224.10" stroke="#222" stroke-width="1.4"/><line x1="826.15" y1="143.12" x2="829.25" y2="143.12" stroke="#222" stroke-width="1.4"/><text x="907.33" y="236.90" font-size="14.8" text-anchor="middle">0</text><text x="824.15" y="148.22" font-size="14.8" text-anchor="end">0</text><line x1="939.15" y1="221.00" x2="939.15" y2="224.10" stroke="#222" stroke-width="1.4"/><line x1="826.15" y1="111.38" x2="829.25" y2="111.38" stroke="#222" stroke-width="1.4"/><text x="939.15" y="236.90" font-size="14.8" text-anchor="middle">100</text><text x="824.15" y="116.47" font-size="14.8" text-anchor="end">100</text><line x1="970.99" y1="221.00" x2="970.99" y2="224.10" stroke="#222" stroke-width="1.4"/><line x1="826.15" y1="79.62" x2="829.25" y2="79.62" stroke="#222" stroke-width="1.4"/><text x="970.99" y="236.90" font-size="14.8" text-anchor="middle">200</text><text x="824.15" y="84.72" font-size="14.8" text-anchor="end">200</text><text x="907.33" y="254.30" font-size="18" text-anchor="middle">x [mm]</text><text transform="translate(792.55,143.62) rotate(-90)" font-size="18" text-anchor="middle">y [mm]</text><text x="908.10" y="55.10" font-size="18.8" text-anchor="middle">Half Elbow</text><svg x="595" y="282.25" width="164.60" height="165.00" viewBox="0 0 18 18" preserveAspectRatio="none" shape-rendering="crispEdges"><rect x="0" y="0" width="1" height="1.02" fill="#5948a2"/><rect x="1" y="0" width="1" height="1.02" fill="#5746a0"/><rect x="2" y="0" width="1" height="1.02" fill="#55449e"/><rect x="3" y="0" width="1" height="1.02" fill="#51409a"/><rect x="4" y="0" width="2" height="1.02" fill="#4f3e98"/><rect x="6" y="0" width="1" height="1.02" fill="#503f99"/><rect x="7" y="0" width="1" height="1.02" fill="#51409a"/><rect x="8" y="0" width="1" height="1.02" fill="#52419b"/><rect x="9" y="0" width="1" height="1.02" fill="#51409a"/><rect x="10" y="0" width="1" height="1.02" fill="#503f99"/><rect x="11" y="0" width="2" height="1.02" fill="#4f3e98"/><rect x="13" y="0" width="1" height="1.02" fill="#51409a"/><rect x="14" y="0" width="1" height="1.02" fill="#55449e"/><rect x="15" y="0" width="1" height="1.02" fill="#5746a0"/><rect x="16" y="0" width="2" height="1.02" fill="#5948a2"/><rect x="0" y="1" width="1" height="1.02" fill="#5746a0"/><rect x="1" y="1" width="1" height="1.02" fill="#54439d"/><rect x="2" y="1" width="1" height="1.02" fill="#503f99"/><rect x="3" y="1" width="1" height="1.02" fill="#4f3e98"/><rect x="4" y="1" width="1" height="1.02" fill="#51409a"/><rect x="5" y="1" width="1" height="1.02" fill="#55449e"/><rect x="6" y="1" width="1" height="1.02" fill="#5847a1"/><rect x="7" y="1" width="1" height="1.02" fill="#5948a2"/><rect x="8" y="1" width="1" height="1.02" fill="#5a49a3"/><rect x="9" y="1" width="1" height="1.02" fill="#5948a2"/><rect x="10" y="1" width="1" height="1.02" fill="#5847a1"/><rect x="11" y="1" width="1" height="1.02" fill="#55449e"/><rect x="12" y="1" width="1" height="1.02" fill="#51409a"/><rect x="13" y="1" width="1" height="1.02" fill="#4f3e98"/><rect x="14" y="1" width="1" height="1.02" fill="#503f99"/><rect x="15" y="1" width="1" height="1.02" fill="#54439d"/><rect x="16" y="1" width="1" height="1.02" fill="#5746a0"/><rect x="17" y="1" width="1" height="1.02" fill="#5948a2"/><rect x="0" y="2" width="1" height="1.02" fill="#55449e"/><rect x="1" y="2" width="1" height="1.02" fill="#503f99"/><rect x="2" y="2" width="1" height="1.02" fill="#4f3e98"/><rect x="3" y="2" width="1" height="1.02" fill="#53429c"/><rect x="4" y="2" width="1" height="1.02" fill="#5847a1"/><rect x="5" y="2" width="1" height="1.02" fill="#5b4aa4"/><rect x="6" y="2" width="1" height="1.02" fill="#5d4ca6"/><rect x="7" y="2" width="1" height="1.02" fill="#5e4da7"/><rect x="8" y="2" width="1" height="1.02" fill="#5f4ea7"/><rect x="9" y="2" width="1" height="1.02" fill="#5e4da7"/><rect x="10" y="2" width="1" height="1.02" fill="#5d4ca6"/><rect x="11" y="2" width="1" height="1.02" fill="#5b4aa4"/><rect x="12" y="2" width="1" height="1.02" fill="#5847a1"/><rect x="13" y="2" width="1" height="1.02" fill="#53429c"/><rect x="14" y="2" width="1" height="1.02" fill="#4f3e98"/><rect x="15" y="2" width="1" height="1.02" fill="#503f99"/><rect x="16" y="2" width="1" height="1.02" fill="#55449e"/><rect x="17" y="2" width="1" height="1.02" fill="#5746a0"/><rect x="0" y="3" width="1" height="1.02" fill="#51409a"/><rect x="1" y="3" width="1" height="1.02" fill="#4f3e98"/><rect x="2" y="3" width="1" height="1.02" fill="#53429c"/><rect x="3" y="3" width="1" height="1.02" fill="#5948a2"/><rect x="4" y="3" width="1" height="1.02" fill="#5d4ca6"/><rect x="5" y="3" width="1" height="1.02" fill="#5f4fa8"/><rect x="6" y="3" width="1" height="1.02" fill="#6151aa"/><rect x="7" y="3" width="1" height="1.02" fill="#6352ab"/><rect x="8" y="3" width="1" height="1.02" fill="#6353ac"/><rect x="9" y="3" width="1" height="1.02" fill="#6352ab"/><rect x="10" y="3" width="1" height="1.02" fill="#6151aa"/><rect x="11" y="3" width="1" height="1.02" fill="#5f4fa8"/><rect x="12" y="3" width="1" height="1.02" fill="#5d4ca6"/><rect x="13" y="3" width="1" height="1.02" fill="#5948a2"/><rect x="14" y="3" width="1" height="1.02" fill="#53429c"/><rect x="15" y="3" width="1" height="1.02" fill="#4f3e98"/><rect x="16" y="3" width="1" height="1.02" fill="#51409a"/><rect x="17" y="3" width="1" height="1.02" fill="#56459f"/><rect x="0" y="4" width="1" height="1.02" fill="#4f3e98"/><rect x="1" y="4" width="1" height="1.02" fill="#51409a"/><rect x="2" y="4" width="1" height="1.02" fill="#5847a1"/><rect x="3" y="4" width="1" height="1.02" fill="#5d4ca6"/><rect x="4" y="4" width="1" height="1.02" fill="#6050a9"/><rect x="5" y="4" width="1" height="1.02" fill="#6353ac"/><rect x="6" y="4" width="1" height="1.02" fill="#6656ae"/><rect x="7" y="4" width="1" height="1.02" fill="#6858b0"/><rect x="8" y="4" width="1" height="1.02" fill="#6959b1"/><rect x="9" y="4" width="1" height="1.02" fill="#6858b0"/><rect x="10" y="4" width="1" height="1.02" fill="#6656ae"/><rect x="11" y="4" width="1" height="1.02" fill="#6353ac"/><rect x="12" y="4" width="1" height="1.02" fill="#6050a9"/><rect x="13" y="4" width="1" height="1.02" fill="#5d4ca6"/><rect x="14" y="4" width="1" height="1.02" fill="#5847a1"/><rect x="15" y="4" width="1" height="1.02" fill="#51409a"/><rect x="16" y="4" width="1" height="1.02" fill="#4f3e98"/><rect x="17" y="4" width="1" height="1.02" fill="#54439d"/><rect x="0" y="5" width="1" height="1.02" fill="#4f3e98"/><rect x="1" y="5" width="1" height="1.02" fill="#55449e"/><rect x="2" y="5" width="1" height="1.02" fill="#5b4aa4"/><rect x="3" y="5" width="1" height="1.02" fill="#5f4fa8"/><rect x="4" y="5" width="1" height="1.02" fill="#6353ac"/><rect x="5" y="5" width="1" height="1.02" fill="#6758b0"/><rect x="6" y="5" width="1" height="1.02" fill="#6b5bb3"/><rect x="7" y="5" width="1" height="1.02" fill="#6d5eb5"/><rect x="8" y="5" width="1" height="1.02" fill="#6e5fb6"/><rect x="9" y="5" width="1" height="1.02" fill="#6d5eb5"/><rect x="10" y="5" width="1" height="1.02" fill="#6b5bb3"/><rect x="11" y="5" width="1" height="1.02" fill="#6758b0"/><rect x="12" y="5" width="1" height="1.02" fill="#6353ac"/><rect x="13" y="5" width="1" height="1.02" fill="#5f4fa8"/><rect x="14" y="5" width="1" height="1.02" fill="#5b4aa4"/><rect x="15" y="5" width="1" height="1.02" fill="#55449e"/><rect x="16" y="5" width="1" height="1.02" fill="#4f3e98"/><rect x="17" y="5" width="1" height="1.02" fill="#51409a"/><rect x="0" y="6" width="1" height="1.02" fill="#503f99"/><rect x="1" y="6" width="1" height="1.02" fill="#5847a1"/><rect x="2" y="6" width="1" height="1.02" fill="#5d4ca6"/><rect x="3" y="6" width="1" height="1.02" fill="#6151aa"/><rect x="4" y="6" width="1" height="1.02" fill="#6656ae"/><rect x="5" y="6" width="1" height="1.02" fill="#6b5bb3"/><rect x="6" y="6" width="1" height="1.02" fill="#6f60b7"/><rect x="7" y="6" width="1" height="1.02" fill="#7264ba"/><rect x="8" y="6" width="1" height="1.02" fill="#7365bb"/><rect x="9" y="6" width="1" height="1.02" fill="#7264ba"/><rect x="10" y="6" width="1" height="1.02" fill="#6f60b7"/><rect x="11" y="6" width="1" height="1.02" fill="#6b5bb3"/><rect x="12" y="6" width="1" height="1.02" fill="#6656ae"/><rect x="13" y="6" width="1" height="1.02" fill="#6151aa"/><rect x="14" y="6" width="1" height="1.02" fill="#5d4ca6"/><rect x="15" y="6" width="1" height="1.02" fill="#5847a1"/><rect x="16" y="6" width="2" height="1.02" fill="#503f99"/><rect x="0" y="7" width="1" height="1.02" fill="#51409a"/><rect x="1" y="7" width="1" height="1.02" fill="#5948a2"/><rect x="2" y="7" width="1" height="1.02" fill="#5e4da7"/><rect x="3" y="7" width="1" height="1.02" fill="#6352ab"/><rect x="4" y="7" width="1" height="1.02" fill="#6858b0"/><rect x="5" y="7" width="1" height="1.02" fill="#6d5eb5"/><rect x="6" y="7" width="1" height="1.02" fill="#7264ba"/><rect x="7" y="7" width="1" height="1.02" fill="#786abf"/><rect x="8" y="7" width="1" height="1.02" fill="#7b6dc1"/><rect x="9" y="7" width="1" height="1.02" fill="#786abf"/><rect x="10" y="7" width="1" height="1.02" fill="#7264ba"/><rect x="11" y="7" width="1" height="1.02" fill="#6d5eb5"/><rect x="12" y="7" width="1" height="1.02" fill="#6858b0"/><rect x="13" y="7" width="1" height="1.02" fill="#6352ab"/><rect x="14" y="7" width="1" height="1.02" fill="#5e4da7"/><rect x="15" y="7" width="1" height="1.02" fill="#5948a2"/><rect x="16" y="7" width="1" height="1.02" fill="#51409a"/><rect x="17" y="7" width="1" height="1.02" fill="#4f3e98"/><rect x="0" y="8" width="1" height="1.02" fill="#52419b"/><rect x="1" y="8" width="1" height="1.02" fill="#5a49a3"/><rect x="2" y="8" width="1" height="1.02" fill="#5f4ea7"/><rect x="3" y="8" width="1" height="1.02" fill="#6353ac"/><rect x="4" y="8" width="1" height="1.02" fill="#6959b1"/><rect x="5" y="8" width="1" height="1.02" fill="#6e5fb6"/><rect x="6" y="8" width="1" height="1.02" fill="#7365bb"/><rect x="7" y="8" width="1" height="1.02" fill="#7b6dc1"/><rect x="8" y="8" width="1" height="1.02" fill="#8f86c9"/><rect x="9" y="8" width="1" height="1.02" fill="#7b6dc1"/><rect x="10" y="8" width="1" height="1.02" fill="#7365bb"/><rect x="11" y="8" width="1" height="1.02" fill="#6e5fb6"/><rect x="12" y="8" width="1" height="1.02" fill="#6959b1"/><rect x="13" y="8" width="1" height="1.02" fill="#6353ac"/><rect x="14" y="8" width="1" height="1.02" fill="#5f4ea7"/><rect x="15" y="8" width="1" height="1.02" fill="#5a49a3"/><rect x="16" y="8" width="1" height="1.02" fill="#52419b"/><rect x="17" y="8" width="1" height="1.02" fill="#4f3e98"/><rect x="0" y="9" width="1" height="1.02" fill="#51409a"/><rect x="1" y="9" width="1" height="1.02" fill="#5948a2"/><rect x="2" y="9" width="1" height="1.02" fill="#5e4da7"/><rect x="3" y="9" width="1" height="1.02" fill="#6352ab"/><rect x="4" y="9" width="1" height="1.02" fill="#6858b0"/><rect x="5" y="9" width="1" height="1.02" fill="#6d5eb5"/><rect x="6" y="9" width="1" height="1.02" fill="#7264ba"/><rect x="7" y="9" width="1" height="1.02" fill="#786abf"/><rect x="8" y="9" width="1" height="1.02" fill="#7b6dc1"/><rect x="9" y="9" width="1" height="1.02" fill="#786abf"/><rect x="10" y="9" width="1" height="1.02" fill="#7264ba"/><rect x="11" y="9" width="1" height="1.02" fill="#6d5eb5"/><rect x="12" y="9" width="1" height="1.02" fill="#6858b0"/><rect x="13" y="9" width="1" height="1.02" fill="#6352ab"/><rect x="14" y="9" width="1" height="1.02" fill="#5e4da7"/><rect x="15" y="9" width="1" height="1.02" fill="#5948a2"/><rect x="16" y="9" width="1" height="1.02" fill="#51409a"/><rect x="17" y="9" width="1" height="1.02" fill="#4f3e98"/><rect x="0" y="10" width="1" height="1.02" fill="#503f99"/><rect x="1" y="10" width="1" height="1.02" fill="#5847a1"/><rect x="2" y="10" width="1" height="1.02" fill="#5d4ca6"/><rect x="3" y="10" width="1" height="1.02" fill="#6151aa"/><rect x="4" y="10" width="1" height="1.02" fill="#6656ae"/><rect x="5" y="10" width="1" height="1.02" fill="#6b5bb3"/><rect x="6" y="10" width="1" height="1.02" fill="#6f60b7"/><rect x="7" y="10" width="1" height="1.02" fill="#7264ba"/><rect x="8" y="10" width="1" height="1.02" fill="#7365bb"/><rect x="9" y="10" width="1" height="1.02" fill="#7264ba"/><rect x="10" y="10" width="1" height="1.02" fill="#6f60b7"/><rect x="11" y="10" width="1" height="1.02" fill="#6b5bb3"/><rect x="12" y="10" width="1" height="1.02" fill="#6656ae"/><rect x="13" y="10" width="1" height="1.02" fill="#6151aa"/><rect x="14" y="10" width="1" height="1.02" fill="#5d4ca6"/><rect x="15" y="10" width="1" height="1.02" fill="#5847a1"/><rect x="16" y="10" width="2" height="1.02" fill="#503f99"/><rect x="0" y="11" width="1" height="1.02" fill="#4f3e98"/><rect x="1" y="11" width="1" height="1.02" fill="#55449e"/><rect x="2" y="11" width="1" height="1.02" fill="#5b4aa4"/><rect x="3" y="11" width="1" height="1.02" fill="#5f4fa8"/><rect x="4" y="11" width="1" height="1.02" fill="#6353ac"/><rect x="5" y="11" width="1" height="1.02" fill="#6758b0"/><rect x="6" y="11" width="1" height="1.02" fill="#6b5bb3"/><rect x="7" y="11" width="1" height="1.02" fill="#6d5eb5"/><rect x="8" y="11" width="1" height="1.02" fill="#6e5fb6"/><rect x="9" y="11" width="1" height="1.02" fill="#6d5eb5"/><rect x="10" y="11" width="1" height="1.02" fill="#6b5bb3"/><rect x="11" y="11" width="1" height="1.02" fill="#6758b0"/><rect x="12" y="11" width="1" height="1.02" fill="#6353ac"/><rect x="13" y="11" width="1" height="1.02" fill="#5f4fa8"/><rect x="14" y="11" width="1" height="1.02" fill="#5b4aa4"/><rect x="15" y="11" width="1" height="1.02" fill="#55449e"/><rect x="16" y="11" width="1" height="1.02" fill="#4f3e98"/><rect x="17" y="11" width="1" height="1.02" fill="#51409a"/><rect x="0" y="12" width="1" height="1.02" fill="#4f3e98"/><rect x="1" y="12" width="1" height="1.02" fill="#51409a"/><rect x="2" y="12" width="1" height="1.02" fill="#5847a1"/><rect x="3" y="12" width="1" height="1.02" fill="#5d4ca6"/><rect x="4" y="12" width="1" height="1.02" fill="#6050a9"/><rect x="5" y="12" width="1" height="1.02" fill="#6353ac"/><rect x="6" y="12" width="1" height="1.02" fill="#6656ae"/><rect x="7" y="12" width="1" height="1.02" fill="#6858b0"/><rect x="8" y="12" width="1" height="1.02" fill="#6959b1"/><rect x="9" y="12" width="1" height="1.02" fill="#6858b0"/><rect x="10" y="12" width="1" height="1.02" fill="#6656ae"/><rect x="11" y="12" width="1" height="1.02" fill="#6353ac"/><rect x="12" y="12" width="1" height="1.02" fill="#6050a9"/><rect x="13" y="12" width="1" height="1.02" fill="#5d4ca6"/><rect x="14" y="12" width="1" height="1.02" fill="#5847a1"/><rect x="15" y="12" width="1" height="1.02" fill="#51409a"/><rect x="16" y="12" width="1" height="1.02" fill="#4f3e98"/><rect x="17" y="12" width="1" height="1.02" fill="#54439d"/><rect x="0" y="13" width="1" height="1.02" fill="#51409a"/><rect x="1" y="13" width="1" height="1.02" fill="#4f3e98"/><rect x="2" y="13" width="1" height="1.02" fill="#53429c"/><rect x="3" y="13" width="1" height="1.02" fill="#5948a2"/><rect x="4" y="13" width="1" height="1.02" fill="#5d4ca6"/><rect x="5" y="13" width="1" height="1.02" fill="#5f4fa8"/><rect x="6" y="13" width="1" height="1.02" fill="#6151aa"/><rect x="7" y="13" width="1" height="1.02" fill="#6352ab"/><rect x="8" y="13" width="1" height="1.02" fill="#6353ac"/><rect x="9" y="13" width="1" height="1.02" fill="#6352ab"/><rect x="10" y="13" width="1" height="1.02" fill="#6151aa"/><rect x="11" y="13" width="1" height="1.02" fill="#5f4fa8"/><rect x="12" y="13" width="1" height="1.02" fill="#5d4ca6"/><rect x="13" y="13" width="1" height="1.02" fill="#5948a2"/><rect x="14" y="13" width="1" height="1.02" fill="#53429c"/><rect x="15" y="13" width="1" height="1.02" fill="#4f3e98"/><rect x="16" y="13" width="1" height="1.02" fill="#51409a"/><rect x="17" y="13" width="1" height="1.02" fill="#56459f"/><rect x="0" y="14" width="1" height="1.02" fill="#55449e"/><rect x="1" y="14" width="1" height="1.02" fill="#503f99"/><rect x="2" y="14" width="1" height="1.02" fill="#4f3e98"/><rect x="3" y="14" width="1" height="1.02" fill="#53429c"/><rect x="4" y="14" width="1" height="1.02" fill="#5847a1"/><rect x="5" y="14" width="1" height="1.02" fill="#5b4aa4"/><rect x="6" y="14" width="1" height="1.02" fill="#5d4ca6"/><rect x="7" y="14" width="1" height="1.02" fill="#5e4da7"/><rect x="8" y="14" width="1" height="1.02" fill="#5f4ea7"/><rect x="9" y="14" width="1" height="1.02" fill="#5e4da7"/><rect x="10" y="14" width="1" height="1.02" fill="#5d4ca6"/><rect x="11" y="14" width="1" height="1.02" fill="#5b4aa4"/><rect x="12" y="14" width="1" height="1.02" fill="#5847a1"/><rect x="13" y="14" width="1" height="1.02" fill="#53429c"/><rect x="14" y="14" width="1" height="1.02" fill="#4f3e98"/><rect x="15" y="14" width="1" height="1.02" fill="#503f99"/><rect x="16" y="14" width="1" height="1.02" fill="#55449e"/><rect x="17" y="14" width="1" height="1.02" fill="#5746a0"/><rect x="0" y="15" width="1" height="1.02" fill="#5746a0"/><rect x="1" y="15" width="1" height="1.02" fill="#54439d"/><rect x="2" y="15" width="1" height="1.02" fill="#503f99"/><rect x="3" y="15" width="1" height="1.02" fill="#4f3e98"/><rect x="4" y="15" width="1" height="1.02" fill="#51409a"/><rect x="5" y="15" width="1" height="1.02" fill="#55449e"/><rect x="6" y="15" width="1" height="1.02" fill="#5847a1"/><rect x="7" y="15" width="1" height="1.02" fill="#5948a2"/><rect x="8" y="15" width="1" height="1.02" fill="#5a49a3"/><rect x="9" y="15" width="1" height="1.02" fill="#5948a2"/><rect x="10" y="15" width="1" height="1.02" fill="#5847a1"/><rect x="11" y="15" width="1" height="1.02" fill="#55449e"/><rect x="12" y="15" width="1" height="1.02" fill="#51409a"/><rect x="13" y="15" width="1" height="1.02" fill="#4f3e98"/><rect x="14" y="15" width="1" height="1.02" fill="#503f99"/><rect x="15" y="15" width="1" height="1.02" fill="#54439d"/><rect x="16" y="15" width="1" height="1.02" fill="#5746a0"/><rect x="17" y="15" width="1" height="1.02" fill="#5948a2"/><rect x="0" y="16" width="1" height="1.02" fill="#5948a2"/><rect x="1" y="16" width="1" height="1.02" fill="#5746a0"/><rect x="2" y="16" width="1" height="1.02" fill="#55449e"/><rect x="3" y="16" width="1" height="1.02" fill="#51409a"/><rect x="4" y="16" width="2" height="1.02" fill="#4f3e98"/><rect x="6" y="16" width="1" height="1.02" fill="#503f99"/><rect x="7" y="16" width="1" height="1.02" fill="#51409a"/><rect x="8" y="16" width="1" height="1.02" fill="#52419b"/><rect x="9" y="16" width="1" height="1.02" fill="#51409a"/><rect x="10" y="16" width="1" height="1.02" fill="#503f99"/><rect x="11" y="16" width="2" height="1.02" fill="#4f3e98"/><rect x="13" y="16" width="1" height="1.02" fill="#51409a"/><rect x="14" y="16" width="1" height="1.02" fill="#55449e"/><rect x="15" y="16" width="1" height="1.02" fill="#5746a0"/><rect x="16" y="16" width="2" height="1.02" fill="#5948a2"/><rect x="0" y="17" width="2" height="1.02" fill="#5948a2"/><rect x="2" y="17" width="1" height="1.02" fill="#5746a0"/><rect x="3" y="17" width="1" height="1.02" fill="#56459f"/><rect x="4" y="17" width="1" height="1.02" fill="#54439d"/><rect x="5" y="17" width="1" height="1.02" fill="#51409a"/><rect x="6" y="17" width="1" height="1.02" fill="#503f99"/><rect x="7" y="17" width="3" height="1.02" fill="#4f3e98"/><rect x="10" y="17" width="1" height="1.02" fill="#503f99"/><rect x="11" y="17" width="1" height="1.02" fill="#51409a"/><rect x="12" y="17" width="1" height="1.02" fill="#54439d"/><rect x="13" y="17" width="1" height="1.02" fill="#56459f"/><rect x="14" y="17" width="1" height="1.02" fill="#5746a0"/><rect x="15" y="17" width="3" height="1.02" fill="#5948a2"/></svg><rect x="595" y="282.25" width="164.60" height="165.00" fill="none" stroke="#555" stroke-width="0.8" opacity="0.6"/><line x1="611.46" y1="445.75" x2="611.46" y2="448.85" stroke="#222" stroke-width="1.4"/><line x1="593.40" y1="430.75" x2="596.50" y2="430.75" stroke="#222" stroke-width="1.4"/><text x="611.46" y="461.65" font-size="14.8" text-anchor="middle">-200</text><text x="591.40" y="435.85" font-size="14.8" text-anchor="end">-200</text><line x1="644.38" y1="445.75" x2="644.38" y2="448.85" stroke="#222" stroke-width="1.4"/><line x1="593.40" y1="397.75" x2="596.50" y2="397.75" stroke="#222" stroke-width="1.4"/><text x="644.38" y="461.65" font-size="14.8" text-anchor="middle">-100</text><text x="591.40" y="402.85" font-size="14.8" text-anchor="end">-100</text><line x1="677.30" y1="445.75" x2="677.30" y2="448.85" stroke="#222" stroke-width="1.4"/><line x1="593.40" y1="364.75" x2="596.50" y2="364.75" stroke="#222" stroke-width="1.4"/><text x="677.30" y="461.65" font-size="14.8" text-anchor="middle">0</text><text x="591.40" y="369.85" font-size="14.8" text-anchor="end">0</text><line x1="710.22" y1="445.75" x2="710.22" y2="448.85" stroke="#222" stroke-width="1.4"/><line x1="593.40" y1="331.75" x2="596.50" y2="331.75" stroke="#222" stroke-width="1.4"/><text x="710.22" y="461.65" font-size="14.8" text-anchor="middle">100</text><text x="591.40" y="336.85" font-size="14.8" text-anchor="end">100</text><line x1="743.14" y1="445.75" x2="743.14" y2="448.85" stroke="#222" stroke-width="1.4"/><line x1="593.40" y1="298.75" x2="596.50" y2="298.75" stroke="#222" stroke-width="1.4"/><text x="743.14" y="461.65" font-size="14.8" text-anchor="middle">200</text><text x="591.40" y="303.85" font-size="14.8" text-anchor="end">200</text><text x="677.30" y="479.05" font-size="18" text-anchor="middle">x [mm]</text><text transform="translate(559.00,364.55) rotate(-90)" font-size="18" text-anchor="middle">y [mm]</text><text x="674.50" y="277.00" font-size="18.8" text-anchor="middle">Elbow</text><svg x="826.4" y="284.25" width="163.35" height="162.25" viewBox="0 0 18 18" preserveAspectRatio="none" shape-rendering="crispEdges"><rect x="0" y="0" width="1" height="1.02" fill="#5948a2"/><rect x="1" y="0" width="1" height="1.02" fill="#5b4aa4"/><rect x="2" y="0" width="1" height="1.02" fill="#5e4da7"/><rect x="3" y="0" width="1" height="1.02" fill="#6050a9"/><rect x="4" y="0" width="1" height="1.02" fill="#6454ad"/><rect x="5" y="0" width="1" height="1.02" fill="#6858b0"/><rect x="6" y="0" width="1" height="1.02" fill="#6b5cb3"/><rect x="7" y="0" width="1" height="1.02" fill="#7567bc"/><rect x="8" y="0" width="1" height="1.02" fill="#8d83c8"/><rect x="9" y="0" width="1" height="1.02" fill="#7567bc"/><rect x="10" y="0" width="1" height="1.02" fill="#6b5cb3"/><rect x="11" y="0" width="1" height="1.02" fill="#6858b0"/><rect x="12" y="0" width="1" height="1.02" fill="#6454ad"/><rect x="13" y="0" width="1" height="1.02" fill="#6050a9"/><rect x="14" y="0" width="1" height="1.02" fill="#5e4da7"/><rect x="15" y="0" width="1" height="1.02" fill="#5b4aa4"/><rect x="16" y="0" width="2" height="1.02" fill="#5948a2"/><rect x="0" y="1" width="1" height="1.02" fill="#5948a2"/><rect x="1" y="1" width="1" height="1.02" fill="#5b4aa4"/><rect x="2" y="1" width="1" height="1.02" fill="#5e4da7"/><rect x="3" y="1" width="1" height="1.02" fill="#6050a9"/><rect x="4" y="1" width="1" height="1.02" fill="#6454ad"/><rect x="5" y="1" width="1" height="1.02" fill="#6858b0"/><rect x="6" y="1" width="1" height="1.02" fill="#6b5cb3"/><rect x="7" y="1" width="1" height="1.02" fill="#7567bc"/><rect x="8" y="1" width="1" height="1.02" fill="#8d83c8"/><rect x="9" y="1" width="1" height="1.02" fill="#7567bc"/><rect x="10" y="1" width="1" height="1.02" fill="#6b5cb3"/><rect x="11" y="1" width="1" height="1.02" fill="#6858b0"/><rect x="12" y="1" width="1" height="1.02" fill="#6454ad"/><rect x="13" y="1" width="1" height="1.02" fill="#6050a9"/><rect x="14" y="1" width="1" height="1.02" fill="#5e4da7"/><rect x="15" y="1" width="1" height="1.02" fill="#5b4aa4"/><rect x="16" y="1" width="2" height="1.02" fill="#5948a2"/><rect x="0" y="2" width="1" height="1.02" fill="#5948a2"/><rect x="1" y="2" width="1" height="1.02" fill="#5b4aa4"/><rect x="2" y="2" width="1" height="1.02" fill="#5e4da7"/><rect x="3" y="2" width="1" height="1.02" fill="#6050a9"/><rect x="4" y="2" width="1" height="1.02" fill="#6454ad"/><rect x="5" y="2" width="1" height="1.02" fill="#6858b0"/><rect x="6" y="2" width="1" height="1.02" fill="#6b5cb3"/><rect x="7" y="2" width="1" height="1.02" fill="#7567bc"/><rect x="8" y="2" width="1" height="1.02" fill="#8d83c8"/><rect x="9" y="2" width="1" height="1.02" fill="#7567bc"/><rect x="10" y="2" width="1" height="1.02" fill="#6b5cb3"/><rect x="11" y="2" width="1" height="1.02" fill="#6858b0"/><rect x="12" y="2" width="1" height="1.02" fill="#6454ad"/><rect x="13" y="2" width="1" height="1.02" fill="#6050a9"/><rect x="14" y="2" width="1" height="1.02" fill="#5e4da7"/><rect x="15" y="2" width="1" height="1.02" fill="#5b4aa4"/><rect x="16" y="2" width="2" height="1.02" fill="#5948a2"/><rect x="0" y="3" width="1" height="1.02" fill="#5847a1"/><rect x="1" y="3" width="1" height="1.02" fill="#5b4aa4"/><rect x="2" y="3" width="1" height="1.02" fill="#5e4da7"/><rect x="3" y="3" width="1" height="1.02" fill="#6050a9"/><rect x="4" y="3" width="1" height="1.02" fill="#6454ad"/><rect x="5" y="3" width="1" height="1.02" fill="#6858b0"/><rect x="6" y="3" width="1" height="1.02" fill="#6b5cb3"/><rect x="7" y="3" width="1" height="1.02" fill="#7567bc"/><rect x="8" y="3" width="1" height="1.02" fill="#8d83c8"/><rect x="9" y="3" width="1" height="1.02" fill="#7567bc"/><rect x="10" y="3" width="1" height="1.02" fill="#6b5cb3"/><rect x="11" y="3" width="1" height="1.02" fill="#6858b0"/><rect x="12" y="3" width="1" height="1.02" fill="#6454ad"/><rect x="13" y="3" width="1" height="1.02" fill="#6050a9"/><rect x="14" y="3" width="1" height="1.02" fill="#5e4da7"/><rect x="15" y="3" width="1" height="1.02" fill="#5b4aa4"/><rect x="16" y="3" width="1" height="1.02" fill="#5847a1"/><rect x="17" y="3" width="1" height="1.02" fill="#5746a0"/><rect x="0" y="4" width="1" height="1.02" fill="#54429c"/><rect x="1" y="4" width="1" height="1.02" fill="#5948a2"/><rect x="2" y="4" width="1" height="1.02" fill="#5c4ba5"/><rect x="3" y="4" width="1" height="1.02" fill="#604fa8"/><rect x="4" y="4" width="1" height="1.02" fill="#6353ac"/><rect x="5" y="4" width="1" height="1.02" fill="#6757af"/><rect x="6" y="4" width="1" height="1.02" fill="#6a5bb3"/><rect x="7" y="4" width="1" height="1.02" fill="#7365bb"/><rect x="8" y="4" width="1" height="1.02" fill="#8d83c8"/><rect x="9" y="4" width="1" height="1.02" fill="#7365bb"/><rect x="10" y="4" width="1" height="1.02" fill="#6a5bb3"/><rect x="11" y="4" width="1" height="1.02" fill="#6757af"/><rect x="12" y="4" width="1" height="1.02" fill="#6353ac"/><rect x="13" y="4" width="1" height="1.02" fill="#604fa8"/><rect x="14" y="4" width="1" height="1.02" fill="#5c4ba5"/><rect x="15" y="4" width="1" height="1.02" fill="#5948a2"/><rect x="16" y="4" width="1" height="1.02" fill="#54429c"/><rect x="17" y="4" width="1" height="1.02" fill="#52419b"/><rect x="0" y="5" width="1" height="1.02" fill="#503f99"/><rect x="1" y="5" width="1" height="1.02" fill="#52419b"/><rect x="2" y="5" width="1" height="1.02" fill="#5746a0"/><rect x="3" y="5" width="1" height="1.02" fill="#5c4ba5"/><rect x="4" y="5" width="1" height="1.02" fill="#604fa8"/><rect x="5" y="5" width="1" height="1.02" fill="#6353ac"/><rect x="6" y="5" width="1" height="1.02" fill="#6757af"/><rect x="7" y="5" width="1" height="1.02" fill="#7263b9"/><rect x="8" y="5" width="1" height="1.02" fill="#8d83c8"/><rect x="9" y="5" width="1" height="1.02" fill="#7263b9"/><rect x="10" y="5" width="1" height="1.02" fill="#6757af"/><rect x="11" y="5" width="1" height="1.02" fill="#6353ac"/><rect x="12" y="5" width="1" height="1.02" fill="#604fa8"/><rect x="13" y="5" width="1" height="1.02" fill="#5c4ba5"/><rect x="14" y="5" width="1" height="1.02" fill="#5746a0"/><rect x="15" y="5" width="1" height="1.02" fill="#52419b"/><rect x="16" y="5" width="1" height="1.02" fill="#503f99"/><rect x="17" y="5" width="1" height="1.02" fill="#52419b"/><rect x="0" y="6" width="1" height="1.02" fill="#5746a0"/><rect x="1" y="6" width="1" height="1.02" fill="#52419b"/><rect x="2" y="6" width="1" height="1.02" fill="#51409a"/><rect x="3" y="6" width="1" height="1.02" fill="#55449e"/><rect x="4" y="6" width="1" height="1.02" fill="#5a49a3"/><rect x="5" y="6" width="1" height="1.02" fill="#604fa8"/><rect x="6" y="6" width="1" height="1.02" fill="#6555ae"/><rect x="7" y="6" width="1" height="1.02" fill="#7061b8"/><rect x="8" y="6" width="1" height="1.02" fill="#8b80c8"/><rect x="9" y="6" width="1" height="1.02" fill="#7061b8"/><rect x="10" y="6" width="1" height="1.02" fill="#6555ae"/><rect x="11" y="6" width="1" height="1.02" fill="#604fa8"/><rect x="12" y="6" width="1" height="1.02" fill="#5a49a3"/><rect x="13" y="6" width="1" height="1.02" fill="#55449e"/><rect x="14" y="6" width="1" height="1.02" fill="#51409a"/><rect x="15" y="6" width="1" height="1.02" fill="#52419b"/><rect x="16" y="6" width="1" height="1.02" fill="#5746a0"/><rect x="17" y="6" width="1" height="1.02" fill="#5948a2"/><rect x="0" y="7" width="1" height="1.02" fill="#5a49a3"/><rect x="1" y="7" width="1" height="1.02" fill="#5948a2"/><rect x="2" y="7" width="1" height="1.02" fill="#55449e"/><rect x="3" y="7" width="1" height="1.02" fill="#503f99"/><rect x="4" y="7" width="1" height="1.02" fill="#51409a"/><rect x="5" y="7" width="1" height="1.02" fill="#5948a2"/><rect x="6" y="7" width="1" height="1.02" fill="#604fa8"/><rect x="7" y="7" width="1" height="1.02" fill="#6a5bb3"/><rect x="8" y="7" width="1" height="1.02" fill="#877bc7"/><rect x="9" y="7" width="1" height="1.02" fill="#6a5bb3"/><rect x="10" y="7" width="1" height="1.02" fill="#604fa8"/><rect x="11" y="7" width="1" height="1.02" fill="#5948a2"/><rect x="12" y="7" width="1" height="1.02" fill="#51409a"/><rect x="13" y="7" width="1" height="1.02" fill="#503f99"/><rect x="14" y="7" width="1" height="1.02" fill="#55449e"/><rect x="15" y="7" width="1" height="1.02" fill="#5948a2"/><rect x="16" y="7" width="2" height="1.02" fill="#5a49a3"/><rect x="0" y="8" width="2" height="1.02" fill="#5a49a3"/><rect x="2" y="8" width="1" height="1.02" fill="#5948a2"/><rect x="3" y="8" width="1" height="1.02" fill="#5746a0"/><rect x="4" y="8" width="1" height="1.02" fill="#54429c"/><rect x="5" y="8" width="3" height="1.02" fill="#503f99"/><rect x="8" y="8" width="1" height="1.02" fill="#55449e"/><rect x="9" y="8" width="3" height="1.02" fill="#503f99"/><rect x="12" y="8" width="1" height="1.02" fill="#54429c"/><rect x="13" y="8" width="1" height="1.02" fill="#5746a0"/><rect x="14" y="8" width="1" height="1.02" fill="#5948a2"/><rect x="15" y="8" width="3" height="1.02" fill="#5a49a3"/><rect x="0" y="9" width="1" height="1.02" fill="#5a49a3"/><rect x="1" y="9" width="1" height="1.02" fill="#5948a2"/><rect x="2" y="9" width="1" height="1.02" fill="#55449e"/><rect x="3" y="9" width="1" height="1.02" fill="#503f99"/><rect x="4" y="9" width="1" height="1.02" fill="#51409a"/><rect x="5" y="9" width="1" height="1.02" fill="#5948a2"/><rect x="6" y="9" width="1" height="1.02" fill="#604fa8"/><rect x="7" y="9" width="1" height="1.02" fill="#6a5bb3"/><rect x="8" y="9" width="1" height="1.02" fill="#877bc7"/><rect x="9" y="9" width="1" height="1.02" fill="#6a5bb3"/><rect x="10" y="9" width="1" height="1.02" fill="#604fa8"/><rect x="11" y="9" width="1" height="1.02" fill="#5948a2"/><rect x="12" y="9" width="1" height="1.02" fill="#51409a"/><rect x="13" y="9" width="1" height="1.02" fill="#503f99"/><rect x="14" y="9" width="1" height="1.02" fill="#55449e"/><rect x="15" y="9" width="1" height="1.02" fill="#5948a2"/><rect x="16" y="9" width="2" height="1.02" fill="#5a49a3"/><rect x="0" y="10" width="1" height="1.02" fill="#5746a0"/><rect x="1" y="10" width="1" height="1.02" fill="#52419b"/><rect x="2" y="10" width="1" height="1.02" fill="#51409a"/><rect x="3" y="10" width="1" height="1.02" fill="#55449e"/><rect x="4" y="10" width="1" height="1.02" fill="#5a49a3"/><rect x="5" y="10" width="1" height="1.02" fill="#604fa8"/><rect x="6" y="10" width="1" height="1.02" fill="#6555ae"/><rect x="7" y="10" width="1" height="1.02" fill="#7061b8"/><rect x="8" y="10" width="1" height="1.02" fill="#8b80c8"/><rect x="9" y="10" width="1" height="1.02" fill="#7061b8"/><rect x="10" y="10" width="1" height="1.02" fill="#6555ae"/><rect x="11" y="10" width="1" height="1.02" fill="#604fa8"/><rect x="12" y="10" width="1" height="1.02" fill="#5a49a3"/><rect x="13" y="10" width="1" height="1.02" fill="#55449e"/><rect x="14" y="10" width="1" height="1.02" fill="#51409a"/><rect x="15" y="10" width="1" height="1.02" fill="#52419b"/><rect x="16" y="10" width="1" height="1.02" fill="#5746a0"/><rect x="17" y="10" width="1" height="1.02" fill="#5948a2"/><rect x="0" y="11" width="1" height="1.02" fill="#503f99"/><rect x="1" y="11" width="1" height="1.02" fill="#52419b"/><rect x="2" y="11" width="1" height="1.02" fill="#5746a0"/><rect x="3" y="11" width="1" height="1.02" fill="#5c4ba5"/><rect x="4" y="11" width="1" height="1.02" fill="#604fa8"/><rect x="5" y="11" width="1" height="1.02" fill="#6353ac"/><rect x="6" y="11" width="1" height="1.02" fill="#6757af"/><rect x="7" y="11" width="1" height="1.02" fill="#7263b9"/><rect x="8" y="11" width="1" height="1.02" fill="#8d83c8"/><rect x="9" y="11" width="1" height="1.02" fill="#7263b9"/><rect x="10" y="11" width="1" height="1.02" fill="#6757af"/><rect x="11" y="11" width="1" height="1.02" fill="#6353ac"/><rect x="12" y="11" width="1" height="1.02" fill="#604fa8"/><rect x="13" y="11" width="1" height="1.02" fill="#5c4ba5"/><rect x="14" y="11" width="1" height="1.02" fill="#5746a0"/><rect x="15" y="11" width="1" height="1.02" fill="#52419b"/><rect x="16" y="11" width="1" height="1.02" fill="#503f99"/><rect x="17" y="11" width="1" height="1.02" fill="#52419b"/><rect x="0" y="12" width="1" height="1.02" fill="#54429c"/><rect x="1" y="12" width="1" height="1.02" fill="#5948a2"/><rect x="2" y="12" width="1" height="1.02" fill="#5c4ba5"/><rect x="3" y="12" width="1" height="1.02" fill="#604fa8"/><rect x="4" y="12" width="1" height="1.02" fill="#6353ac"/><rect x="5" y="12" width="1" height="1.02" fill="#6757af"/><rect x="6" y="12" width="1" height="1.02" fill="#6a5bb3"/><rect x="7" y="12" width="1" height="1.02" fill="#7365bb"/><rect x="8" y="12" width="1" height="1.02" fill="#8d83c8"/><rect x="9" y="12" width="1" height="1.02" fill="#7365bb"/><rect x="10" y="12" width="1" height="1.02" fill="#6a5bb3"/><rect x="11" y="12" width="1" height="1.02" fill="#6757af"/><rect x="12" y="12" width="1" height="1.02" fill="#6353ac"/><rect x="13" y="12" width="1" height="1.02" fill="#604fa8"/><rect x="14" y="12" width="1" height="1.02" fill="#5c4ba5"/><rect x="15" y="12" width="1" height="1.02" fill="#5948a2"/><rect x="16" y="12" width="1" height="1.02" fill="#54429c"/><rect x="17" y="12" width="1" height="1.02" fill="#52419b"/><rect x="0" y="13" width="1" height="1.02" fill="#5847a1"/><rect x="1" y="13" width="1" height="1.02" fill="#5b4aa4"/><rect x="2" y="13" width="1" height="1.02" fill="#5e4da7"/><rect x="3" y="13" width="1" height="1.02" fill="#6050a9"/><rect x="4" y="13" width="1" height="1.02" fill="#6454ad"/><rect x="5" y="13" width="1" height="1.02" fill="#6858b0"/><rect x="6" y="13" width="1" height="1.02" fill="#6b5cb3"/><rect x="7" y="13" width="1" height="1.02" fill="#7567bc"/><rect x="8" y="13" width="1" height="1.02" fill="#8d83c8"/><rect x="9" y="13" width="1" height="1.02" fill="#7567bc"/><rect x="10" y="13" width="1" height="1.02" fill="#6b5cb3"/><rect x="11" y="13" width="1" height="1.02" fill="#6858b0"/><rect x="12" y="13" width="1" height="1.02" fill="#6454ad"/><rect x="13" y="13" width="1" height="1.02" fill="#6050a9"/><rect x="14" y="13" width="1" height="1.02" fill="#5e4da7"/><rect x="15" y="13" width="1" height="1.02" fill="#5b4aa4"/><rect x="16" y="13" width="1" height="1.02" fill="#5847a1"/><rect x="17" y="13" width="1" height="1.02" fill="#5746a0"/><rect x="0" y="14" width="1" height="1.02" fill="#5948a2"/><rect x="1" y="14" width="1" height="1.02" fill="#5b4aa4"/><rect x="2" y="14" width="1" height="1.02" fill="#5e4da7"/><rect x="3" y="14" width="1" height="1.02" fill="#6050a9"/><rect x="4" y="14" width="1" height="1.02" fill="#6454ad"/><rect x="5" y="14" width="1" height="1.02" fill="#6858b0"/><rect x="6" y="14" width="1" height="1.02" fill="#6b5cb3"/><rect x="7" y="14" width="1" height="1.02" fill="#7567bc"/><rect x="8" y="14" width="1" height="1.02" fill="#8d83c8"/><rect x="9" y="14" width="1" height="1.02" fill="#7567bc"/><rect x="10" y="14" width="1" height="1.02" fill="#6b5cb3"/><rect x="11" y="14" width="1" height="1.02" fill="#6858b0"/><rect x="12" y="14" width="1" height="1.02" fill="#6454ad"/><rect x="13" y="14" width="1" height="1.02" fill="#6050a9"/><rect x="14" y="14" width="1" height="1.02" fill="#5e4da7"/><rect x="15" y="14" width="1" height="1.02" fill="#5b4aa4"/><rect x="16" y="14" width="2" height="1.02" fill="#5948a2"/><rect x="0" y="15" width="1" height="1.02" fill="#5948a2"/><rect x="1" y="15" width="1" height="1.02" fill="#5b4aa4"/><rect x="2" y="15" width="1" height="1.02" fill="#5e4da7"/><rect x="3" y="15" width="1" height="1.02" fill="#6050a9"/><rect x="4" y="15" width="1" height="1.02" fill="#6454ad"/><rect x="5" y="15" width="1" height="1.02" fill="#6858b0"/><rect x="6" y="15" width="1" height="1.02" fill="#6b5cb3"/><rect x="7" y="15" width="1" height="1.02" fill="#7567bc"/><rect x="8" y="15" width="1" height="1.02" fill="#8d83c8"/><rect x="9" y="15" width="1" height="1.02" fill="#7567bc"/><rect x="10" y="15" width="1" height="1.02" fill="#6b5cb3"/><rect x="11" y="15" width="1" height="1.02" fill="#6858b0"/><rect x="12" y="15" width="1" height="1.02" fill="#6454ad"/><rect x="13" y="15" width="1" height="1.02" fill="#6050a9"/><rect x="14" y="15" width="1" height="1.02" fill="#5e4da7"/><rect x="15" y="15" width="1" height="1.02" fill="#5b4aa4"/><rect x="16" y="15" width="2" height="1.02" fill="#5948a2"/><rect x="0" y="16" width="1" height="1.02" fill="#5948a2"/><rect x="1" y="16" width="1" height="1.02" fill="#5b4aa4"/><rect x="2" y="16" width="1" height="1.02" fill="#5e4da7"/><rect x="3" y="16" width="1" height="1.02" fill="#6050a9"/><rect x="4" y="16" width="1" height="1.02" fill="#6454ad"/><rect x="5" y="16" width="1" height="1.02" fill="#6858b0"/><rect x="6" y="16" width="1" height="1.02" fill="#6b5cb3"/><rect x="7" y="16" width="1" height="1.02" fill="#7567bc"/><rect x="8" y="16" width="1" height="1.02" fill="#8d83c8"/><rect x="9" y="16" width="1" height="1.02" fill="#7567bc"/><rect x="10" y="16" width="1" height="1.02" fill="#6b5cb3"/><rect x="11" y="16" width="1" height="1.02" fill="#6858b0"/><rect x="12" y="16" width="1" height="1.02" fill="#6454ad"/><rect x="13" y="16" width="1" height="1.02" fill="#6050a9"/><rect x="14" y="16" width="1" height="1.02" fill="#5e4da7"/><rect x="15" y="16" width="1" height="1.02" fill="#5b4aa4"/><rect x="16" y="16" width="2" height="1.02" fill="#5948a2"/><rect x="0" y="17" width="1" height="1.02" fill="#5948a2"/><rect x="1" y="17" width="1" height="1.02" fill="#5b4aa4"/><rect x="2" y="17" width="1" height="1.02" fill="#5e4da7"/><rect x="3" y="17" width="1" height="1.02" fill="#6050a9"/><rect x="4" y="17" width="1" height="1.02" fill="#6454ad"/><rect x="5" y="17" width="1" height="1.02" fill="#6858b0"/><rect x="6" y="17" width="1" height="1.02" fill="#6b5cb3"/><rect x="7" y="17" width="1" height="1.02" fill="#7567bc"/><rect x="8" y="17" width="1" height="1.02" fill="#8d83c8"/><rect x="9" y="17" width="1" height="1.02" fill="#7567bc"/><rect x="10" y="17" width="1" height="1.02" fill="#6b5cb3"/><rect x="11" y="17" width="1" height="1.02" fill="#6858b0"/><rect x="12" y="17" width="1" height="1.02" fill="#6454ad"/><rect x="13" y="17" width="1" height="1.02" fill="#6050a9"/><rect x="14" y="17" width="1" height="1.02" fill="#5e4da7"/><rect x="15" y="17" width="1" height="1.02" fill="#5b4aa4"/><rect x="16" y="17" width="2" height="1.02" fill="#5948a2"/></svg><rect x="826.4" y="284.25" width="163.35" height="162.25" fill="none" stroke="#555" stroke-width="0.8" opacity="0.6"/><line x1="842.74" y1="445.00" x2="842.74" y2="448.10" stroke="#222" stroke-width="1.4"/><line x1="824.80" y1="430.27" x2="827.90" y2="430.27" stroke="#222" stroke-width="1.4"/><text x="842.74" y="460.90" font-size="14.8" text-anchor="middle">-200</text><text x="822.80" y="435.38" font-size="14.8" text-anchor="end">-200</text><line x1="875.40" y1="445.00" x2="875.40" y2="448.10" stroke="#222" stroke-width="1.4"/><line x1="824.80" y1="397.82" x2="827.90" y2="397.82" stroke="#222" stroke-width="1.4"/><text x="875.40" y="460.90" font-size="14.8" text-anchor="middle">-100</text><text x="822.80" y="402.93" font-size="14.8" text-anchor="end">-100</text><line x1="908.08" y1="445.00" x2="908.08" y2="448.10" stroke="#222" stroke-width="1.4"/><line x1="824.80" y1="365.38" x2="827.90" y2="365.38" stroke="#222" stroke-width="1.4"/><text x="908.08" y="460.90" font-size="14.8" text-anchor="middle">0</text><text x="822.80" y="370.48" font-size="14.8" text-anchor="end">0</text><line x1="940.75" y1="445.00" x2="940.75" y2="448.10" stroke="#222" stroke-width="1.4"/><line x1="824.80" y1="332.93" x2="827.90" y2="332.93" stroke="#222" stroke-width="1.4"/><text x="940.75" y="460.90" font-size="14.8" text-anchor="middle">100</text><text x="822.80" y="338.03" font-size="14.8" text-anchor="end">100</text><line x1="973.41" y1="445.00" x2="973.41" y2="448.10" stroke="#222" stroke-width="1.4"/><line x1="824.80" y1="300.48" x2="827.90" y2="300.48" stroke="#222" stroke-width="1.4"/><text x="973.41" y="460.90" font-size="14.8" text-anchor="middle">200</text><text x="822.80" y="305.58" font-size="14.8" text-anchor="end">200</text><text x="908.08" y="478.30" font-size="18" text-anchor="middle">y [mm]</text><text transform="translate(790.90,365.07) rotate(-90)" font-size="18" text-anchor="middle">z [mm]</text><text x="907.80" y="277.80" font-size="18.8" text-anchor="middle">Sagittal</text><defs><linearGradient id="cg" x1="0" y1="0" x2="0" y2="1"><stop offset="0.00" stop-color="#ffa078"/><stop offset="0.01" stop-color="#fea179"/><stop offset="0.02" stop-color="#fca17b"/><stop offset="0.03" stop-color="#fba27c"/><stop offset="0.04" stop-color="#faa37d"/><stop offset="0.05" stop-color="#f8a37f"/><stop offset="0.06" stop-color="#f7a480"/><stop offset="0.07" stop-color="#f5a583"/><stop offset="0.08" stop-color="#f3a685"/><stop offset="0.09" stop-color="#f1a888"/><stop offset="0.10" stop-color="#efa98b"/><stop offset="0.11" stop-color="#ecaa8e"/><stop offset="0.12" stop-color="#eaab90"/><stop offset="0.13" stop-color="#e8ac93"/><stop offset="0.14" stop-color="#e6ad96"/><stop offset="0.15" stop-color="#e4af98"/><stop offset="0.16" stop-color="#e2b09b"/><stop offset="0.17" stop-color="#e0b19e"/><stop offset="0.18" stop-color="#ddb2a1"/><stop offset="0.19" stop-color="#dbb3a3"/><stop offset="0.20" stop-color="#d9b4a6"/><stop offset="0.21" stop-color="#d6b5a9"/><stop offset="0.22" stop-color="#d4b6ab"/><stop offset="0.23" stop-color="#d1b7ae"/><stop offset="0.24" stop-color="#cfb8b1"/><stop offset="0.25" stop-color="#ccb9b4"/><stop offset="0.26" stop-color="#cabab6"/><stop offset="0.27" stop-color="#c7bbb9"/><stop offset="0.28" stop-color="#c5bcbc"/><stop offset="0.29" stop-color="#c2bdbf"/><stop offset="0.30" stop-color="#c0bdc0"/><stop offset="0.31" stop-color="#bfbbc1"/><stop offset="0.32" stop-color="#bdbac2"/><stop offset="0.33" stop-color="#bcb8c2"/><stop offset="0.34" stop-color="#bab6c3"/><stop offset="0.35" stop-color="#b9b5c4"/><stop offset="0.36" stop-color="#b7b3c4"/><stop offset="0.37" stop-color="#b6b1c5"/><stop offset="0.38" stop-color="#b4b0c6"/><stop offset="0.39" stop-color="#b2aec6"/><stop offset="0.40" stop-color="#b1acc7"/><stop offset="0.41" stop-color="#afaac8"/><stop offset="0.42" stop-color="#ada8c8"/><stop offset="0.43" stop-color="#aba6c8"/><stop offset="0.44" stop-color="#a9a3c8"/><stop offset="0.45" stop-color="#a7a1c9"/><stop offset="0.46" stop-color="#a59fc9"/><stop offset="0.47" stop-color="#a39cc9"/><stop offset="0.48" stop-color="#a19ac9"/><stop offset="0.49" stop-color="#9f98c9"/><stop offset="0.50" stop-color="#9c95c9"/><stop offset="0.51" stop-color="#9a93ca"/><stop offset="0.52" stop-color="#9890ca"/><stop offset="0.53" stop-color="#968eca"/><stop offset="0.54" stop-color="#948cca"/><stop offset="0.55" stop-color="#9289c9"/><stop offset="0.56" stop-color="#9087c9"/><stop offset="0.57" stop-color="#8f85c9"/><stop offset="0.58" stop-color="#8d83c8"/><stop offset="0.59" stop-color="#8b80c8"/><stop offset="0.60" stop-color="#897ec8"/><stop offset="0.61" stop-color="#877cc7"/><stop offset="0.62" stop-color="#8579c7"/><stop offset="0.63" stop-color="#8377c7"/><stop offset="0.64" stop-color="#8175c6"/><stop offset="0.65" stop-color="#8073c6"/><stop offset="0.66" stop-color="#7e71c4"/><stop offset="0.67" stop-color="#7d6fc3"/><stop offset="0.68" stop-color="#7b6dc2"/><stop offset="0.69" stop-color="#7a6cc0"/><stop offset="0.70" stop-color="#786abf"/><stop offset="0.71" stop-color="#7668be"/><stop offset="0.72" stop-color="#7567bc"/><stop offset="0.73" stop-color="#7365bb"/><stop offset="0.74" stop-color="#7263b9"/><stop offset="0.75" stop-color="#7062b8"/><stop offset="0.76" stop-color="#6f60b7"/><stop offset="0.77" stop-color="#6d5eb5"/><stop offset="0.78" stop-color="#6c5cb4"/><stop offset="0.79" stop-color="#6a5bb2"/><stop offset="0.80" stop-color="#6959b1"/><stop offset="0.81" stop-color="#6757b0"/><stop offset="0.82" stop-color="#6656ae"/><stop offset="0.83" stop-color="#6454ad"/><stop offset="0.84" stop-color="#6352ab"/><stop offset="0.85" stop-color="#6151aa"/><stop offset="0.86" stop-color="#5f4fa8"/><stop offset="0.87" stop-color="#5e4da7"/><stop offset="0.88" stop-color="#5c4ba5"/><stop offset="0.89" stop-color="#5b4aa4"/><stop offset="0.90" stop-color="#5948a2"/><stop offset="0.91" stop-color="#5847a1"/><stop offset="0.92" stop-color="#5746a0"/><stop offset="0.93" stop-color="#55449e"/><stop offset="0.94" stop-color="#54439d"/><stop offset="0.95" stop-color="#52419b"/><stop offset="0.96" stop-color="#51409a"/><stop offset="0.97" stop-color="#4f3e98"/><stop offset="0.98" stop-color="#4e3d97"/><stop offset="0.99" stop-color="#4c3b95"/><stop offset="1.00" stop-color="#4b3a94"/></linearGradient></defs><rect x="458" y="87.6" width="17.60" height="332.90" fill="url(#cg)" stroke="#666" stroke-width="0.6"/><line x1="472.10" y1="107.70" x2="478.60" y2="107.70" stroke="#111" stroke-width="1.6"/><text class="s" x="482.30" y="114.70" font-size="16" textLength="19" lengthAdjust="spacingAndGlyphs">10</text><line x1="472.10" y1="185.90" x2="478.60" y2="185.90" stroke="#111" stroke-width="1.6"/><text class="s" x="485.10" y="193.10" font-size="16" textLength="8.6" lengthAdjust="spacingAndGlyphs">0</text><line x1="472.10" y1="264.10" x2="478.60" y2="264.10" stroke="#111" stroke-width="1.6"/><text class="s" x="481.60" y="269.00" font-size="16" textLength="31" lengthAdjust="spacingAndGlyphs">−10</text><line x1="472.10" y1="342.30" x2="478.60" y2="342.30" stroke="#111" stroke-width="1.6"/><text class="s" x="481.60" y="347.20" font-size="16" textLength="31" lengthAdjust="spacingAndGlyphs">−20</text><line x1="472.10" y1="420.50" x2="478.60" y2="420.50" stroke="#111" stroke-width="1.6"/><text class="s" x="481.60" y="426.40" font-size="16" textLength="31" lengthAdjust="spacingAndGlyphs">−30</text><text transform="translate(531.30,253.70) rotate(-90)" font-size="19.5" text-anchor="middle" textLength="129" lengthAdjust="spacingAndGlyphs"><tspan class="s">Δ</tspan>Score [points]</text><rect x="997.5" y="87.6" width="17.30" height="332.90" fill="url(#cg)" stroke="#666" stroke-width="0.6"/><line x1="1011.30" y1="107.70" x2="1017.80" y2="107.70" stroke="#111" stroke-width="1.6"/><text class="s" x="1021.50" y="114.70" font-size="16" textLength="19" lengthAdjust="spacingAndGlyphs">10</text><line x1="1011.30" y1="185.90" x2="1017.80" y2="185.90" stroke="#111" stroke-width="1.6"/><text class="s" x="1024.30" y="193.10" font-size="16" textLength="8.6" lengthAdjust="spacingAndGlyphs">0</text><line x1="1011.30" y1="264.10" x2="1017.80" y2="264.10" stroke="#111" stroke-width="1.6"/><text class="s" x="1020.80" y="269.00" font-size="16" textLength="31" lengthAdjust="spacingAndGlyphs">−10</text><line x1="1011.30" y1="342.30" x2="1017.80" y2="342.30" stroke="#111" stroke-width="1.6"/><text class="s" x="1020.80" y="347.20" font-size="16" textLength="31" lengthAdjust="spacingAndGlyphs">−20</text><line x1="1011.30" y1="420.50" x2="1017.80" y2="420.50" stroke="#111" stroke-width="1.6"/><text class="s" x="1020.80" y="426.40" font-size="16" textLength="31" lengthAdjust="spacingAndGlyphs">−30</text><text transform="translate(1071.50,252.10) rotate(-90)" font-size="19.5" text-anchor="middle" textLength="129" lengthAdjust="spacingAndGlyphs"><tspan class="s">Δ</tspan>Score [points]</text><text x="252.6" y="28" font-size="18.4" font-weight="bold" text-anchor="middle">4-DOF Manipulator</text><text x="797" y="28.5" font-size="18.4" font-weight="bold" text-anchor="middle">3-DOF Manipulator</text></svg></body></html>
